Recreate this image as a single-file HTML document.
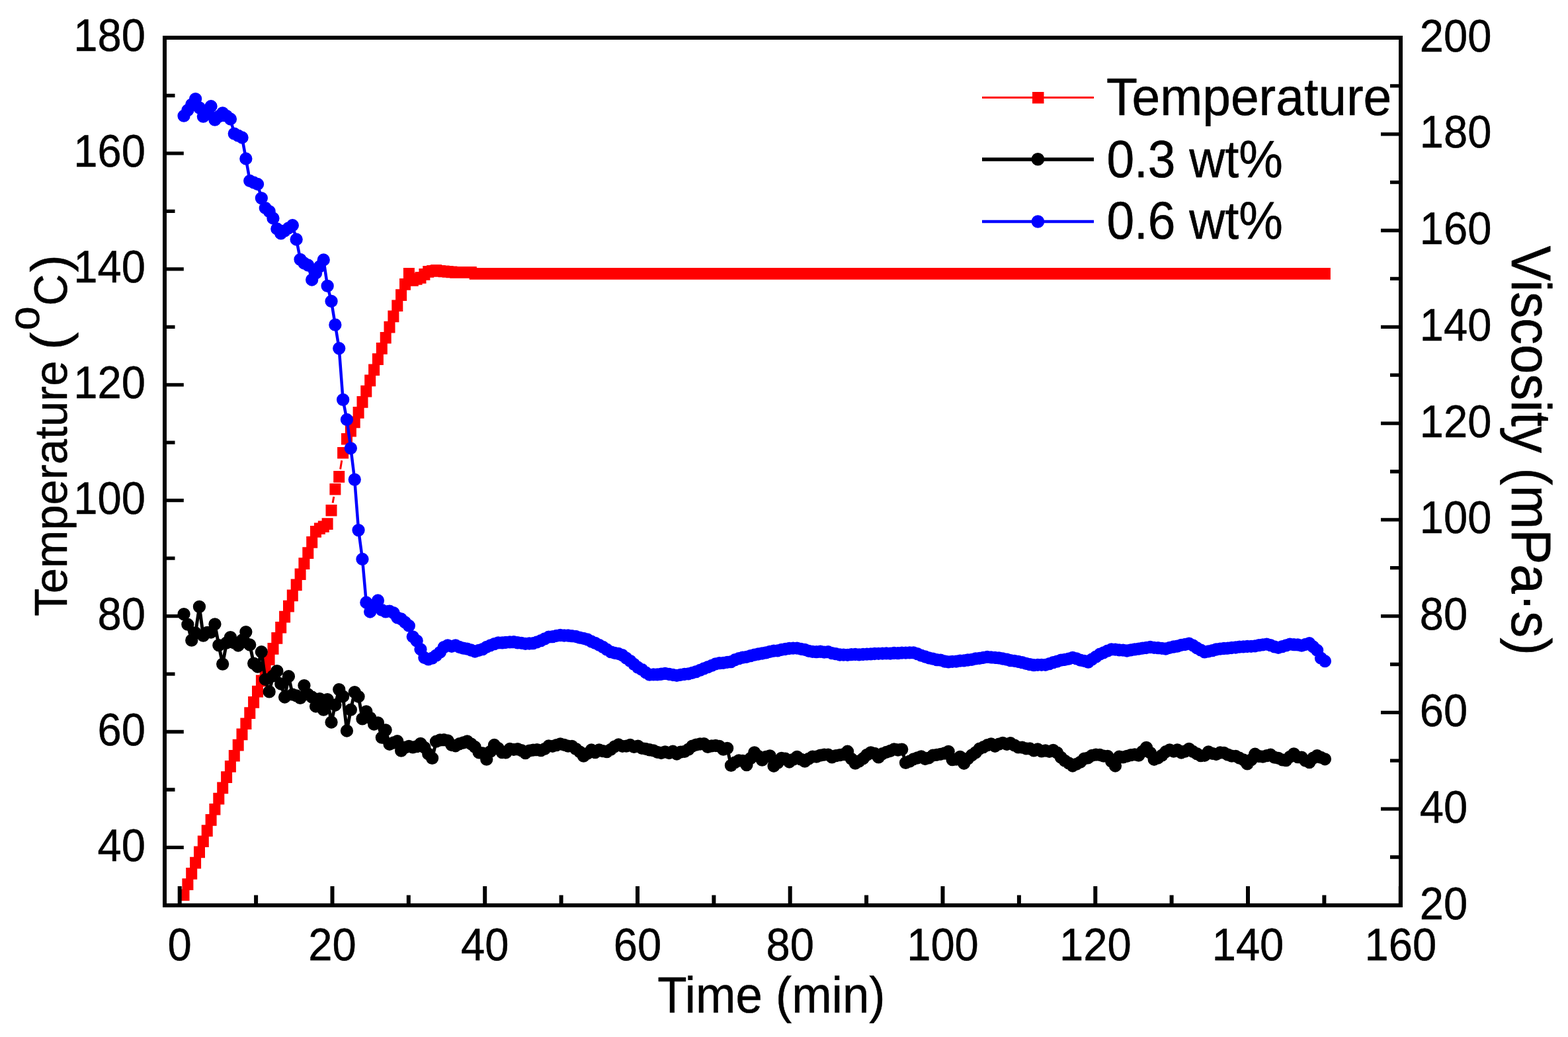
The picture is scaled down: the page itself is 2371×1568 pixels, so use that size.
<!DOCTYPE html><html><head><meta charset="utf-8"><title>Temperature and viscosity vs time</title><style>html,body{margin:0;padding:0;background:#fff;overflow:hidden}svg{display:block}</style></head><body><svg width="2371" height="1568" viewBox="0 0 2371 1568" text-rendering="geometricPrecision">
<rect width="2371" height="1568" fill="#fff"/>
<path d="M503.1 760.4L504.8 751.0M514.6 709.6L516.8 696.2" fill="none" stroke="#f00" stroke-width="3"/>
<path fill="#f00" d="M269.5 1344.4h17v17.7h-17zM275.4 1328.2h17v17.7h-17zM281.2 1312.0h17v17.7h-17zM287.1 1295.8h17v17.7h-17zM293.0 1279.6h17v17.7h-17zM298.8 1263.4h17v17.7h-17zM304.7 1247.2h17v17.7h-17zM310.6 1231.0h17v17.7h-17zM316.4 1214.9h17v17.7h-17zM322.3 1198.7h17v17.7h-17zM328.2 1182.5h17v17.7h-17zM334.1 1166.3h17v17.7h-17zM339.9 1150.1h17v17.7h-17zM345.8 1133.9h17v17.7h-17zM351.7 1117.7h17v17.7h-17zM357.5 1101.5h17v17.7h-17zM363.4 1085.4h17v17.7h-17zM369.3 1069.2h17v17.7h-17zM375.1 1053.0h17v17.7h-17zM381.0 1036.8h17v17.7h-17zM386.9 1020.6h17v17.7h-17zM392.7 1004.4h17v17.7h-17zM398.6 988.2h17v17.7h-17zM404.5 972.0h17v17.7h-17zM410.3 956.0h17v17.7h-17zM416.2 939.9h17v17.7h-17zM422.1 923.8h17v17.7h-17zM428.0 907.7h17v17.7h-17zM433.8 891.6h17v17.7h-17zM439.7 875.5h17v17.7h-17zM445.6 859.4h17v17.7h-17zM451.4 843.3h17v17.7h-17zM457.3 827.2h17v17.7h-17zM463.2 811.1h17v17.7h-17zM469.0 795.0h17v17.7h-17zM474.9 790.4h17v17.7h-17zM480.8 787.4h17v17.7h-17zM486.6 783.2h17v17.7h-17zM492.5 762.9h17v17.7h-17zM498.4 730.9h17v17.7h-17zM504.2 712.1h17v17.7h-17zM510.1 675.9h17v17.7h-17zM516.0 654.9h17v17.7h-17zM521.9 642.8h17v17.7h-17zM527.7 629.5h17v17.7h-17zM533.6 615.1h17v17.7h-17zM539.5 599.0h17v17.7h-17zM545.3 582.8h17v17.7h-17zM551.2 566.6h17v17.7h-17zM557.1 550.4h17v17.7h-17zM562.9 534.3h17v17.7h-17zM568.8 518.1h17v17.7h-17zM574.7 501.9h17v17.7h-17zM580.5 485.8h17v17.7h-17zM586.4 469.6h17v17.7h-17zM592.3 453.4h17v17.7h-17zM598.1 437.2h17v17.7h-17zM604.0 421.0h17v17.7h-17zM609.9 405.0h17v17.7h-17zM615.8 415.1h17v17.7h-17zM621.6 413.1h17v17.7h-17zM627.5 411.1h17v17.7h-17zM633.4 406.1h17v17.7h-17zM639.2 402.1h17v17.7h-17zM645.1 401.0h17v17.7h-17zM651.0 400.1h17v17.7h-17zM656.8 401.1h17v17.7h-17zM662.7 401.6h17v17.7h-17zM668.6 402.1h17v17.7h-17zM674.4 402.6h17v17.7h-17zM680.3 403.1h17v17.7h-17zM686.2 403.1h17v17.7h-17zM692.0 403.1h17v17.7h-17zM697.9 403.1h17v17.7h-17zM703.8 403.1h17v17.7h-17zM709.7 405.0h17v17.7h-17zM715.5 405.0h17v17.7h-17zM721.4 405.0h17v17.7h-17zM727.3 405.0h17v17.7h-17zM733.1 405.0h17v17.7h-17zM739.0 405.0h17v17.7h-17zM744.9 405.0h17v17.7h-17zM750.7 405.0h17v17.7h-17zM756.6 405.0h17v17.7h-17zM762.5 405.0h17v17.7h-17zM768.3 405.0h17v17.7h-17zM774.2 405.0h17v17.7h-17zM780.1 405.0h17v17.7h-17zM785.9 405.0h17v17.7h-17zM791.8 405.0h17v17.7h-17zM797.7 405.0h17v17.7h-17zM803.6 405.0h17v17.7h-17zM809.4 405.0h17v17.7h-17zM815.3 405.0h17v17.7h-17zM821.2 405.0h17v17.7h-17zM827.0 405.0h17v17.7h-17zM832.9 405.0h17v17.7h-17zM838.8 405.0h17v17.7h-17zM844.6 405.0h17v17.7h-17zM850.5 405.0h17v17.7h-17zM856.4 405.0h17v17.7h-17zM862.2 405.0h17v17.7h-17zM868.1 405.0h17v17.7h-17zM874.0 405.0h17v17.7h-17zM879.8 405.0h17v17.7h-17zM885.7 405.0h17v17.7h-17zM891.6 405.0h17v17.7h-17zM897.5 405.0h17v17.7h-17zM903.3 405.0h17v17.7h-17zM909.2 405.0h17v17.7h-17zM915.1 405.0h17v17.7h-17zM920.9 405.0h17v17.7h-17zM926.8 405.0h17v17.7h-17zM932.7 405.0h17v17.7h-17zM938.5 405.0h17v17.7h-17zM944.4 405.0h17v17.7h-17zM950.3 405.0h17v17.7h-17zM956.1 405.0h17v17.7h-17zM962.0 405.0h17v17.7h-17zM967.9 405.0h17v17.7h-17zM973.7 405.0h17v17.7h-17zM979.6 405.0h17v17.7h-17zM985.5 405.0h17v17.7h-17zM991.4 405.0h17v17.7h-17zM997.2 405.0h17v17.7h-17zM1003.1 405.0h17v17.7h-17zM1009.0 405.0h17v17.7h-17zM1014.8 405.0h17v17.7h-17zM1020.7 405.0h17v17.7h-17zM1026.6 405.0h17v17.7h-17zM1032.4 405.0h17v17.7h-17zM1038.3 405.0h17v17.7h-17zM1044.2 405.0h17v17.7h-17zM1050.0 405.0h17v17.7h-17zM1055.9 405.0h17v17.7h-17zM1061.8 405.0h17v17.7h-17zM1067.6 405.0h17v17.7h-17zM1073.5 405.0h17v17.7h-17zM1079.4 405.0h17v17.7h-17zM1085.3 405.0h17v17.7h-17zM1091.1 405.0h17v17.7h-17zM1097.0 405.0h17v17.7h-17zM1102.9 405.0h17v17.7h-17zM1108.7 405.0h17v17.7h-17zM1114.6 405.0h17v17.7h-17zM1120.5 405.0h17v17.7h-17zM1126.3 405.0h17v17.7h-17zM1132.2 405.0h17v17.7h-17zM1138.1 405.0h17v17.7h-17zM1143.9 405.0h17v17.7h-17zM1149.8 405.0h17v17.7h-17zM1155.7 405.0h17v17.7h-17zM1161.5 405.0h17v17.7h-17zM1167.4 405.0h17v17.7h-17zM1173.3 405.0h17v17.7h-17zM1179.1 405.0h17v17.7h-17zM1185.0 405.0h17v17.7h-17zM1190.9 405.0h17v17.7h-17zM1196.8 405.0h17v17.7h-17zM1202.6 405.0h17v17.7h-17zM1208.5 405.0h17v17.7h-17zM1214.4 405.0h17v17.7h-17zM1220.2 405.0h17v17.7h-17zM1226.1 405.0h17v17.7h-17zM1232.0 405.0h17v17.7h-17zM1237.8 405.0h17v17.7h-17zM1243.7 405.0h17v17.7h-17zM1249.6 405.0h17v17.7h-17zM1255.4 405.0h17v17.7h-17zM1261.3 405.0h17v17.7h-17zM1267.2 405.0h17v17.7h-17zM1273.0 405.0h17v17.7h-17zM1278.9 405.0h17v17.7h-17zM1284.8 405.0h17v17.7h-17zM1290.7 405.0h17v17.7h-17zM1296.5 405.0h17v17.7h-17zM1302.4 405.0h17v17.7h-17zM1308.3 405.0h17v17.7h-17zM1314.1 405.0h17v17.7h-17zM1320.0 405.0h17v17.7h-17zM1325.9 405.0h17v17.7h-17zM1331.7 405.0h17v17.7h-17zM1337.6 405.0h17v17.7h-17zM1343.5 405.0h17v17.7h-17zM1349.3 405.0h17v17.7h-17zM1355.2 405.0h17v17.7h-17zM1361.1 405.0h17v17.7h-17zM1366.9 405.0h17v17.7h-17zM1372.8 405.0h17v17.7h-17zM1378.7 405.0h17v17.7h-17zM1384.6 405.0h17v17.7h-17zM1390.4 405.0h17v17.7h-17zM1396.3 405.0h17v17.7h-17zM1402.2 405.0h17v17.7h-17zM1408.0 405.0h17v17.7h-17zM1413.9 405.0h17v17.7h-17zM1419.8 405.0h17v17.7h-17zM1425.6 405.0h17v17.7h-17zM1431.5 405.0h17v17.7h-17zM1437.4 405.0h17v17.7h-17zM1443.2 405.0h17v17.7h-17zM1449.1 405.0h17v17.7h-17zM1455.0 405.0h17v17.7h-17zM1460.8 405.0h17v17.7h-17zM1466.7 405.0h17v17.7h-17zM1472.6 405.0h17v17.7h-17zM1478.5 405.0h17v17.7h-17zM1484.3 405.0h17v17.7h-17zM1490.2 405.0h17v17.7h-17zM1496.1 405.0h17v17.7h-17zM1501.9 405.0h17v17.7h-17zM1507.8 405.0h17v17.7h-17zM1513.7 405.0h17v17.7h-17zM1519.5 405.0h17v17.7h-17zM1525.4 405.0h17v17.7h-17zM1531.3 405.0h17v17.7h-17zM1537.1 405.0h17v17.7h-17zM1543.0 405.0h17v17.7h-17zM1548.9 405.0h17v17.7h-17zM1554.7 405.0h17v17.7h-17zM1560.6 405.0h17v17.7h-17zM1566.5 405.0h17v17.7h-17zM1572.4 405.0h17v17.7h-17zM1578.2 405.0h17v17.7h-17zM1584.1 405.0h17v17.7h-17zM1590.0 405.0h17v17.7h-17zM1595.8 405.0h17v17.7h-17zM1601.7 405.0h17v17.7h-17zM1607.6 405.0h17v17.7h-17zM1613.4 405.0h17v17.7h-17zM1619.3 405.0h17v17.7h-17zM1625.2 405.0h17v17.7h-17zM1631.0 405.0h17v17.7h-17zM1636.9 405.0h17v17.7h-17zM1642.8 405.0h17v17.7h-17zM1648.6 405.0h17v17.7h-17zM1654.5 405.0h17v17.7h-17zM1660.4 405.0h17v17.7h-17zM1666.3 405.0h17v17.7h-17zM1672.1 405.0h17v17.7h-17zM1678.0 405.0h17v17.7h-17zM1683.9 405.0h17v17.7h-17zM1689.7 405.0h17v17.7h-17zM1695.6 405.0h17v17.7h-17zM1701.5 405.0h17v17.7h-17zM1707.3 405.0h17v17.7h-17zM1713.2 405.0h17v17.7h-17zM1719.1 405.0h17v17.7h-17zM1724.9 405.0h17v17.7h-17zM1730.8 405.0h17v17.7h-17zM1736.7 405.0h17v17.7h-17zM1742.5 405.0h17v17.7h-17zM1748.4 405.0h17v17.7h-17zM1754.3 405.0h17v17.7h-17zM1760.2 405.0h17v17.7h-17zM1766.0 405.0h17v17.7h-17zM1771.9 405.0h17v17.7h-17zM1777.8 405.0h17v17.7h-17zM1783.6 405.0h17v17.7h-17zM1789.5 405.0h17v17.7h-17zM1795.4 405.0h17v17.7h-17zM1801.2 405.0h17v17.7h-17zM1807.1 405.0h17v17.7h-17zM1813.0 405.0h17v17.7h-17zM1818.8 405.0h17v17.7h-17zM1824.7 405.0h17v17.7h-17zM1830.6 405.0h17v17.7h-17zM1836.4 405.0h17v17.7h-17zM1842.3 405.0h17v17.7h-17zM1848.2 405.0h17v17.7h-17zM1854.1 405.0h17v17.7h-17zM1859.9 405.0h17v17.7h-17zM1865.8 405.0h17v17.7h-17zM1871.7 405.0h17v17.7h-17zM1877.5 405.0h17v17.7h-17zM1883.4 405.0h17v17.7h-17zM1889.3 405.0h17v17.7h-17zM1895.1 405.0h17v17.7h-17zM1901.0 405.0h17v17.7h-17zM1906.9 405.0h17v17.7h-17zM1912.7 405.0h17v17.7h-17zM1918.6 405.0h17v17.7h-17zM1924.5 405.0h17v17.7h-17zM1930.3 405.0h17v17.7h-17zM1936.2 405.0h17v17.7h-17zM1942.1 405.0h17v17.7h-17zM1948.0 405.0h17v17.7h-17zM1953.8 405.0h17v17.7h-17zM1959.7 405.0h17v17.7h-17zM1965.6 405.0h17v17.7h-17zM1971.4 405.0h17v17.7h-17zM1977.3 405.0h17v17.7h-17zM1983.2 405.0h17v17.7h-17zM1989.0 405.0h17v17.7h-17zM1994.9 405.0h17v17.7h-17z"/>
<path d="M278.0 928.6 L283.9 944.2 L289.7 968.2 L295.6 957.0 L301.5 917.4 L307.3 961.2 L313.2 956.5 L319.1 956.0 L324.9 943.8 L330.8 975.7 L336.7 1004.1 L342.6 972.0 L348.4 963.6 L354.3 972.0 L360.2 976.0 L366.0 968.0 L371.9 955.6 L377.8 975.0 L383.6 1003.1 L389.5 1008.0 L395.4 985.7 L401.2 1027.3 L407.1 1045.9 L413.0 1022.0 L418.8 1014.7 L424.7 1034.0 L430.6 1054.0 L436.5 1022.7 L442.3 1050.2 L448.2 1052.0 L454.1 1055.3 L459.9 1036.6 L465.8 1050.0 L471.7 1054.0 L477.5 1068.0 L483.4 1056.6 L489.3 1073.2 L495.1 1057.7 L501.0 1092.0 L506.9 1066.0 L512.7 1042.6 L518.6 1053.0 L524.5 1105.0 L530.4 1073.2 L536.2 1046.6 L542.1 1053.3 L548.0 1086.9 L553.8 1075.8 L559.7 1085.4 L565.6 1095.0 L571.4 1092.8 L577.3 1115.2 L583.2 1103.8 L589.0 1125.3 L594.9 1123.0 L600.8 1120.7 L606.6 1135.2 L612.5 1130.2 L618.4 1128.5 L624.3 1129.9 L630.1 1128.6 L636.0 1124.3 L641.9 1130.3 L647.7 1140.0 L653.6 1146.4 L659.5 1121.2 L665.3 1119.0 L671.2 1118.7 L677.1 1119.8 L682.9 1126.5 L688.8 1127.8 L694.7 1124.7 L700.5 1123.0 L706.4 1120.9 L712.3 1124.8 L718.2 1129.5 L724.0 1137.8 L729.9 1138.8 L735.8 1148.2 L741.6 1136.3 L747.5 1126.5 L753.4 1131.5 L759.2 1137.6 L765.1 1137.8 L771.0 1132.5 L776.8 1133.4 L782.7 1132.7 L788.6 1134.6 L794.4 1138.7 L800.3 1135.2 L806.2 1134.1 L812.1 1133.6 L817.9 1134.7 L823.8 1132.3 L829.7 1128.0 L835.5 1128.3 L841.4 1126.7 L847.3 1124.9 L853.1 1126.3 L859.0 1128.2 L864.9 1128.4 L870.7 1132.4 L876.6 1136.8 L882.5 1143.2 L888.3 1139.3 L894.2 1134.0 L900.1 1137.6 L906.0 1133.8 L911.8 1135.6 L917.7 1136.7 L923.6 1133.3 L929.4 1128.8 L935.3 1126.0 L941.2 1128.3 L947.0 1128.1 L952.9 1126.5 L958.8 1129.3 L964.6 1128.1 L970.5 1131.3 L976.4 1132.3 L982.2 1133.8 L988.1 1134.8 L994.0 1137.3 L999.9 1138.5 L1005.7 1136.9 L1011.6 1138.5 L1017.5 1136.2 L1023.3 1140.0 L1029.2 1137.2 L1035.1 1136.4 L1040.9 1133.1 L1046.8 1128.1 L1052.7 1126.1 L1058.5 1125.0 L1064.4 1124.6 L1070.3 1129.4 L1076.1 1127.9 L1082.0 1127.5 L1087.9 1128.5 L1093.8 1133.2 L1099.6 1131.4 L1105.5 1157.4 L1111.4 1152.8 L1117.2 1149.8 L1123.1 1150.4 L1129.0 1156.7 L1134.8 1146.7 L1140.7 1137.9 L1146.6 1143.3 L1152.4 1149.1 L1158.3 1144.3 L1164.2 1142.9 L1170.0 1158.3 L1175.9 1153.4 L1181.8 1146.4 L1187.6 1147.2 L1193.5 1152.0 L1199.4 1148.4 L1205.3 1144.4 L1211.1 1148.1 L1217.0 1151.1 L1222.9 1147.3 L1228.7 1144.1 L1234.6 1144.2 L1240.5 1142.1 L1246.3 1141.1 L1252.2 1141.1 L1258.1 1144.9 L1263.9 1142.6 L1269.8 1141.7 L1275.7 1140.6 L1281.5 1136.2 L1287.4 1147.5 L1293.3 1154.1 L1299.2 1151.0 L1305.0 1147.0 L1310.9 1141.4 L1316.8 1137.8 L1322.6 1139.4 L1328.5 1144.9 L1334.4 1139.7 L1340.2 1137.3 L1346.1 1135.5 L1352.0 1132.8 L1357.8 1134.0 L1363.7 1133.1 L1369.6 1153.4 L1375.4 1151.1 L1381.3 1147.8 L1387.2 1146.0 L1393.1 1143.9 L1398.9 1147.5 L1404.8 1145.8 L1410.7 1142.2 L1416.5 1141.3 L1422.4 1140.3 L1428.3 1139.0 L1434.1 1136.4 L1440.0 1148.6 L1445.9 1148.1 L1451.7 1144.3 L1457.6 1154.3 L1463.5 1147.2 L1469.3 1142.0 L1475.2 1137.9 L1481.1 1132.2 L1487.0 1129.7 L1492.8 1126.7 L1498.7 1124.9 L1504.6 1128.3 L1510.4 1125.2 L1516.3 1123.4 L1522.2 1125.3 L1528.0 1123.7 L1533.9 1126.9 L1539.8 1129.9 L1545.6 1130.2 L1551.5 1131.8 L1557.4 1132.0 L1563.2 1134.9 L1569.1 1132.8 L1575.0 1135.9 L1580.9 1135.0 L1586.7 1136.3 L1592.6 1134.4 L1598.5 1138.1 L1604.3 1145.2 L1610.2 1150.3 L1616.1 1153.9 L1621.9 1158.0 L1627.8 1155.3 L1633.7 1152.3 L1639.5 1147.1 L1645.4 1145.8 L1651.3 1142.3 L1657.1 1141.1 L1663.0 1141.5 L1668.9 1143.1 L1674.8 1143.3 L1680.6 1151.1 L1686.5 1158.0 L1692.4 1144.2 L1698.2 1144.9 L1704.1 1143.4 L1710.0 1141.6 L1715.8 1140.8 L1721.7 1142.2 L1727.6 1136.3 L1733.4 1130.3 L1739.3 1138.3 L1745.2 1148.3 L1751.0 1146.0 L1756.9 1142.1 L1762.8 1136.7 L1768.7 1133.9 L1774.5 1136.0 L1780.4 1133.9 L1786.3 1138.0 L1792.1 1136.0 L1798.0 1132.3 L1803.9 1136.5 L1809.7 1139.6 L1815.6 1142.6 L1821.5 1142.3 L1827.3 1136.9 L1833.2 1139.4 L1839.1 1140.5 L1844.9 1138.0 L1850.8 1138.3 L1856.7 1141.1 L1862.6 1143.1 L1868.4 1143.4 L1874.3 1146.2 L1880.2 1148.8 L1886.0 1154.9 L1891.9 1148.9 L1897.8 1140.2 L1903.6 1143.5 L1909.5 1144.2 L1915.4 1142.7 L1921.2 1141.2 L1927.1 1145.2 L1933.0 1146.3 L1938.8 1148.8 L1944.7 1149.6 L1950.6 1144.3 L1956.5 1139.9 L1962.3 1144.7 L1968.2 1145.1 L1974.1 1150.1 L1979.9 1152.7 L1985.8 1146.1 L1991.7 1142.6 L1997.5 1145.4 L2003.4 1147.8" fill="none" stroke="#000" stroke-width="5"/>
<path fill="#000" d="M268.4 928.6a9.65 9.65 0 1 0 19.3 0a9.65 9.65 0 1 0 -19.3 0zM274.2 944.2a9.65 9.65 0 1 0 19.3 0a9.65 9.65 0 1 0 -19.3 0zM280.1 968.2a9.65 9.65 0 1 0 19.3 0a9.65 9.65 0 1 0 -19.3 0zM286.0 957.0a9.65 9.65 0 1 0 19.3 0a9.65 9.65 0 1 0 -19.3 0zM291.8 917.4a9.65 9.65 0 1 0 19.3 0a9.65 9.65 0 1 0 -19.3 0zM297.7 961.2a9.65 9.65 0 1 0 19.3 0a9.65 9.65 0 1 0 -19.3 0zM303.6 956.5a9.65 9.65 0 1 0 19.3 0a9.65 9.65 0 1 0 -19.3 0zM309.4 956.0a9.65 9.65 0 1 0 19.3 0a9.65 9.65 0 1 0 -19.3 0zM315.3 943.8a9.65 9.65 0 1 0 19.3 0a9.65 9.65 0 1 0 -19.3 0zM321.2 975.7a9.65 9.65 0 1 0 19.3 0a9.65 9.65 0 1 0 -19.3 0zM327.0 1004.1a9.65 9.65 0 1 0 19.3 0a9.65 9.65 0 1 0 -19.3 0zM332.9 972.0a9.65 9.65 0 1 0 19.3 0a9.65 9.65 0 1 0 -19.3 0zM338.8 963.6a9.65 9.65 0 1 0 19.3 0a9.65 9.65 0 1 0 -19.3 0zM344.6 972.0a9.65 9.65 0 1 0 19.3 0a9.65 9.65 0 1 0 -19.3 0zM350.5 976.0a9.65 9.65 0 1 0 19.3 0a9.65 9.65 0 1 0 -19.3 0zM356.4 968.0a9.65 9.65 0 1 0 19.3 0a9.65 9.65 0 1 0 -19.3 0zM362.2 955.6a9.65 9.65 0 1 0 19.3 0a9.65 9.65 0 1 0 -19.3 0zM368.1 975.0a9.65 9.65 0 1 0 19.3 0a9.65 9.65 0 1 0 -19.3 0zM374.0 1003.1a9.65 9.65 0 1 0 19.3 0a9.65 9.65 0 1 0 -19.3 0zM379.9 1008.0a9.65 9.65 0 1 0 19.3 0a9.65 9.65 0 1 0 -19.3 0zM385.7 985.7a9.65 9.65 0 1 0 19.3 0a9.65 9.65 0 1 0 -19.3 0zM391.6 1027.3a9.65 9.65 0 1 0 19.3 0a9.65 9.65 0 1 0 -19.3 0zM397.5 1045.9a9.65 9.65 0 1 0 19.3 0a9.65 9.65 0 1 0 -19.3 0zM403.3 1022.0a9.65 9.65 0 1 0 19.3 0a9.65 9.65 0 1 0 -19.3 0zM409.2 1014.7a9.65 9.65 0 1 0 19.3 0a9.65 9.65 0 1 0 -19.3 0zM415.1 1034.0a9.65 9.65 0 1 0 19.3 0a9.65 9.65 0 1 0 -19.3 0zM420.9 1054.0a9.65 9.65 0 1 0 19.3 0a9.65 9.65 0 1 0 -19.3 0zM426.8 1022.7a9.65 9.65 0 1 0 19.3 0a9.65 9.65 0 1 0 -19.3 0zM432.7 1050.2a9.65 9.65 0 1 0 19.3 0a9.65 9.65 0 1 0 -19.3 0zM438.5 1052.0a9.65 9.65 0 1 0 19.3 0a9.65 9.65 0 1 0 -19.3 0zM444.4 1055.3a9.65 9.65 0 1 0 19.3 0a9.65 9.65 0 1 0 -19.3 0zM450.3 1036.6a9.65 9.65 0 1 0 19.3 0a9.65 9.65 0 1 0 -19.3 0zM456.1 1050.0a9.65 9.65 0 1 0 19.3 0a9.65 9.65 0 1 0 -19.3 0zM462.0 1054.0a9.65 9.65 0 1 0 19.3 0a9.65 9.65 0 1 0 -19.3 0zM467.9 1068.0a9.65 9.65 0 1 0 19.3 0a9.65 9.65 0 1 0 -19.3 0zM473.8 1056.6a9.65 9.65 0 1 0 19.3 0a9.65 9.65 0 1 0 -19.3 0zM479.6 1073.2a9.65 9.65 0 1 0 19.3 0a9.65 9.65 0 1 0 -19.3 0zM485.5 1057.7a9.65 9.65 0 1 0 19.3 0a9.65 9.65 0 1 0 -19.3 0zM491.4 1092.0a9.65 9.65 0 1 0 19.3 0a9.65 9.65 0 1 0 -19.3 0zM497.2 1066.0a9.65 9.65 0 1 0 19.3 0a9.65 9.65 0 1 0 -19.3 0zM503.1 1042.6a9.65 9.65 0 1 0 19.3 0a9.65 9.65 0 1 0 -19.3 0zM509.0 1053.0a9.65 9.65 0 1 0 19.3 0a9.65 9.65 0 1 0 -19.3 0zM514.8 1105.0a9.65 9.65 0 1 0 19.3 0a9.65 9.65 0 1 0 -19.3 0zM520.7 1073.2a9.65 9.65 0 1 0 19.3 0a9.65 9.65 0 1 0 -19.3 0zM526.6 1046.6a9.65 9.65 0 1 0 19.3 0a9.65 9.65 0 1 0 -19.3 0zM532.4 1053.3a9.65 9.65 0 1 0 19.3 0a9.65 9.65 0 1 0 -19.3 0zM538.3 1086.9a9.65 9.65 0 1 0 19.3 0a9.65 9.65 0 1 0 -19.3 0zM544.2 1075.8a9.65 9.65 0 1 0 19.3 0a9.65 9.65 0 1 0 -19.3 0zM550.0 1085.4a9.65 9.65 0 1 0 19.3 0a9.65 9.65 0 1 0 -19.3 0zM555.9 1095.0a9.65 9.65 0 1 0 19.3 0a9.65 9.65 0 1 0 -19.3 0zM561.8 1092.8a9.65 9.65 0 1 0 19.3 0a9.65 9.65 0 1 0 -19.3 0zM567.7 1115.2a9.65 9.65 0 1 0 19.3 0a9.65 9.65 0 1 0 -19.3 0zM573.5 1103.8a9.65 9.65 0 1 0 19.3 0a9.65 9.65 0 1 0 -19.3 0zM579.4 1125.3a9.65 9.65 0 1 0 19.3 0a9.65 9.65 0 1 0 -19.3 0zM585.3 1123.0a9.65 9.65 0 1 0 19.3 0a9.65 9.65 0 1 0 -19.3 0zM591.1 1120.7a9.65 9.65 0 1 0 19.3 0a9.65 9.65 0 1 0 -19.3 0zM597.0 1135.2a9.65 9.65 0 1 0 19.3 0a9.65 9.65 0 1 0 -19.3 0zM602.9 1130.2a9.65 9.65 0 1 0 19.3 0a9.65 9.65 0 1 0 -19.3 0zM608.7 1128.5a9.65 9.65 0 1 0 19.3 0a9.65 9.65 0 1 0 -19.3 0zM614.6 1129.9a9.65 9.65 0 1 0 19.3 0a9.65 9.65 0 1 0 -19.3 0zM620.5 1128.6a9.65 9.65 0 1 0 19.3 0a9.65 9.65 0 1 0 -19.3 0zM626.3 1124.3a9.65 9.65 0 1 0 19.3 0a9.65 9.65 0 1 0 -19.3 0zM632.2 1130.3a9.65 9.65 0 1 0 19.3 0a9.65 9.65 0 1 0 -19.3 0zM638.1 1140.0a9.65 9.65 0 1 0 19.3 0a9.65 9.65 0 1 0 -19.3 0zM643.9 1146.4a9.65 9.65 0 1 0 19.3 0a9.65 9.65 0 1 0 -19.3 0zM649.8 1121.2a9.65 9.65 0 1 0 19.3 0a9.65 9.65 0 1 0 -19.3 0zM655.7 1119.0a9.65 9.65 0 1 0 19.3 0a9.65 9.65 0 1 0 -19.3 0zM661.6 1118.7a9.65 9.65 0 1 0 19.3 0a9.65 9.65 0 1 0 -19.3 0zM667.4 1119.8a9.65 9.65 0 1 0 19.3 0a9.65 9.65 0 1 0 -19.3 0zM673.3 1126.5a9.65 9.65 0 1 0 19.3 0a9.65 9.65 0 1 0 -19.3 0zM679.2 1127.8a9.65 9.65 0 1 0 19.3 0a9.65 9.65 0 1 0 -19.3 0zM685.0 1124.7a9.65 9.65 0 1 0 19.3 0a9.65 9.65 0 1 0 -19.3 0zM690.9 1123.0a9.65 9.65 0 1 0 19.3 0a9.65 9.65 0 1 0 -19.3 0zM696.8 1120.9a9.65 9.65 0 1 0 19.3 0a9.65 9.65 0 1 0 -19.3 0zM702.6 1124.8a9.65 9.65 0 1 0 19.3 0a9.65 9.65 0 1 0 -19.3 0zM708.5 1129.5a9.65 9.65 0 1 0 19.3 0a9.65 9.65 0 1 0 -19.3 0zM714.4 1137.8a9.65 9.65 0 1 0 19.3 0a9.65 9.65 0 1 0 -19.3 0zM720.2 1138.8a9.65 9.65 0 1 0 19.3 0a9.65 9.65 0 1 0 -19.3 0zM726.1 1148.2a9.65 9.65 0 1 0 19.3 0a9.65 9.65 0 1 0 -19.3 0zM732.0 1136.3a9.65 9.65 0 1 0 19.3 0a9.65 9.65 0 1 0 -19.3 0zM737.8 1126.5a9.65 9.65 0 1 0 19.3 0a9.65 9.65 0 1 0 -19.3 0zM743.7 1131.5a9.65 9.65 0 1 0 19.3 0a9.65 9.65 0 1 0 -19.3 0zM749.6 1137.6a9.65 9.65 0 1 0 19.3 0a9.65 9.65 0 1 0 -19.3 0zM755.5 1137.8a9.65 9.65 0 1 0 19.3 0a9.65 9.65 0 1 0 -19.3 0zM761.3 1132.5a9.65 9.65 0 1 0 19.3 0a9.65 9.65 0 1 0 -19.3 0zM767.2 1133.4a9.65 9.65 0 1 0 19.3 0a9.65 9.65 0 1 0 -19.3 0zM773.1 1132.7a9.65 9.65 0 1 0 19.3 0a9.65 9.65 0 1 0 -19.3 0zM778.9 1134.6a9.65 9.65 0 1 0 19.3 0a9.65 9.65 0 1 0 -19.3 0zM784.8 1138.7a9.65 9.65 0 1 0 19.3 0a9.65 9.65 0 1 0 -19.3 0zM790.7 1135.2a9.65 9.65 0 1 0 19.3 0a9.65 9.65 0 1 0 -19.3 0zM796.5 1134.1a9.65 9.65 0 1 0 19.3 0a9.65 9.65 0 1 0 -19.3 0zM802.4 1133.6a9.65 9.65 0 1 0 19.3 0a9.65 9.65 0 1 0 -19.3 0zM808.3 1134.7a9.65 9.65 0 1 0 19.3 0a9.65 9.65 0 1 0 -19.3 0zM814.1 1132.3a9.65 9.65 0 1 0 19.3 0a9.65 9.65 0 1 0 -19.3 0zM820.0 1128.0a9.65 9.65 0 1 0 19.3 0a9.65 9.65 0 1 0 -19.3 0zM825.9 1128.3a9.65 9.65 0 1 0 19.3 0a9.65 9.65 0 1 0 -19.3 0zM831.7 1126.7a9.65 9.65 0 1 0 19.3 0a9.65 9.65 0 1 0 -19.3 0zM837.6 1124.9a9.65 9.65 0 1 0 19.3 0a9.65 9.65 0 1 0 -19.3 0zM843.5 1126.3a9.65 9.65 0 1 0 19.3 0a9.65 9.65 0 1 0 -19.3 0zM849.4 1128.2a9.65 9.65 0 1 0 19.3 0a9.65 9.65 0 1 0 -19.3 0zM855.2 1128.4a9.65 9.65 0 1 0 19.3 0a9.65 9.65 0 1 0 -19.3 0zM861.1 1132.4a9.65 9.65 0 1 0 19.3 0a9.65 9.65 0 1 0 -19.3 0zM867.0 1136.8a9.65 9.65 0 1 0 19.3 0a9.65 9.65 0 1 0 -19.3 0zM872.8 1143.2a9.65 9.65 0 1 0 19.3 0a9.65 9.65 0 1 0 -19.3 0zM878.7 1139.3a9.65 9.65 0 1 0 19.3 0a9.65 9.65 0 1 0 -19.3 0zM884.6 1134.0a9.65 9.65 0 1 0 19.3 0a9.65 9.65 0 1 0 -19.3 0zM890.4 1137.6a9.65 9.65 0 1 0 19.3 0a9.65 9.65 0 1 0 -19.3 0zM896.3 1133.8a9.65 9.65 0 1 0 19.3 0a9.65 9.65 0 1 0 -19.3 0zM902.2 1135.6a9.65 9.65 0 1 0 19.3 0a9.65 9.65 0 1 0 -19.3 0zM908.0 1136.7a9.65 9.65 0 1 0 19.3 0a9.65 9.65 0 1 0 -19.3 0zM913.9 1133.3a9.65 9.65 0 1 0 19.3 0a9.65 9.65 0 1 0 -19.3 0zM919.8 1128.8a9.65 9.65 0 1 0 19.3 0a9.65 9.65 0 1 0 -19.3 0zM925.6 1126.0a9.65 9.65 0 1 0 19.3 0a9.65 9.65 0 1 0 -19.3 0zM931.5 1128.3a9.65 9.65 0 1 0 19.3 0a9.65 9.65 0 1 0 -19.3 0zM937.4 1128.1a9.65 9.65 0 1 0 19.3 0a9.65 9.65 0 1 0 -19.3 0zM943.3 1126.5a9.65 9.65 0 1 0 19.3 0a9.65 9.65 0 1 0 -19.3 0zM949.1 1129.3a9.65 9.65 0 1 0 19.3 0a9.65 9.65 0 1 0 -19.3 0zM955.0 1128.1a9.65 9.65 0 1 0 19.3 0a9.65 9.65 0 1 0 -19.3 0zM960.9 1131.3a9.65 9.65 0 1 0 19.3 0a9.65 9.65 0 1 0 -19.3 0zM966.7 1132.3a9.65 9.65 0 1 0 19.3 0a9.65 9.65 0 1 0 -19.3 0zM972.6 1133.8a9.65 9.65 0 1 0 19.3 0a9.65 9.65 0 1 0 -19.3 0zM978.5 1134.8a9.65 9.65 0 1 0 19.3 0a9.65 9.65 0 1 0 -19.3 0zM984.3 1137.3a9.65 9.65 0 1 0 19.3 0a9.65 9.65 0 1 0 -19.3 0zM990.2 1138.5a9.65 9.65 0 1 0 19.3 0a9.65 9.65 0 1 0 -19.3 0zM996.1 1136.9a9.65 9.65 0 1 0 19.3 0a9.65 9.65 0 1 0 -19.3 0zM1001.9 1138.5a9.65 9.65 0 1 0 19.3 0a9.65 9.65 0 1 0 -19.3 0zM1007.8 1136.2a9.65 9.65 0 1 0 19.3 0a9.65 9.65 0 1 0 -19.3 0zM1013.7 1140.0a9.65 9.65 0 1 0 19.3 0a9.65 9.65 0 1 0 -19.3 0zM1019.5 1137.2a9.65 9.65 0 1 0 19.3 0a9.65 9.65 0 1 0 -19.3 0zM1025.4 1136.4a9.65 9.65 0 1 0 19.3 0a9.65 9.65 0 1 0 -19.3 0zM1031.3 1133.1a9.65 9.65 0 1 0 19.3 0a9.65 9.65 0 1 0 -19.3 0zM1037.2 1128.1a9.65 9.65 0 1 0 19.3 0a9.65 9.65 0 1 0 -19.3 0zM1043.0 1126.1a9.65 9.65 0 1 0 19.3 0a9.65 9.65 0 1 0 -19.3 0zM1048.9 1125.0a9.65 9.65 0 1 0 19.3 0a9.65 9.65 0 1 0 -19.3 0zM1054.8 1124.6a9.65 9.65 0 1 0 19.3 0a9.65 9.65 0 1 0 -19.3 0zM1060.6 1129.4a9.65 9.65 0 1 0 19.3 0a9.65 9.65 0 1 0 -19.3 0zM1066.5 1127.9a9.65 9.65 0 1 0 19.3 0a9.65 9.65 0 1 0 -19.3 0zM1072.4 1127.5a9.65 9.65 0 1 0 19.3 0a9.65 9.65 0 1 0 -19.3 0zM1078.2 1128.5a9.65 9.65 0 1 0 19.3 0a9.65 9.65 0 1 0 -19.3 0zM1084.1 1133.2a9.65 9.65 0 1 0 19.3 0a9.65 9.65 0 1 0 -19.3 0zM1090.0 1131.4a9.65 9.65 0 1 0 19.3 0a9.65 9.65 0 1 0 -19.3 0zM1095.8 1157.4a9.65 9.65 0 1 0 19.3 0a9.65 9.65 0 1 0 -19.3 0zM1101.7 1152.8a9.65 9.65 0 1 0 19.3 0a9.65 9.65 0 1 0 -19.3 0zM1107.6 1149.8a9.65 9.65 0 1 0 19.3 0a9.65 9.65 0 1 0 -19.3 0zM1113.4 1150.4a9.65 9.65 0 1 0 19.3 0a9.65 9.65 0 1 0 -19.3 0zM1119.3 1156.7a9.65 9.65 0 1 0 19.3 0a9.65 9.65 0 1 0 -19.3 0zM1125.2 1146.7a9.65 9.65 0 1 0 19.3 0a9.65 9.65 0 1 0 -19.3 0zM1131.1 1137.9a9.65 9.65 0 1 0 19.3 0a9.65 9.65 0 1 0 -19.3 0zM1136.9 1143.3a9.65 9.65 0 1 0 19.3 0a9.65 9.65 0 1 0 -19.3 0zM1142.8 1149.1a9.65 9.65 0 1 0 19.3 0a9.65 9.65 0 1 0 -19.3 0zM1148.7 1144.3a9.65 9.65 0 1 0 19.3 0a9.65 9.65 0 1 0 -19.3 0zM1154.5 1142.9a9.65 9.65 0 1 0 19.3 0a9.65 9.65 0 1 0 -19.3 0zM1160.4 1158.3a9.65 9.65 0 1 0 19.3 0a9.65 9.65 0 1 0 -19.3 0zM1166.3 1153.4a9.65 9.65 0 1 0 19.3 0a9.65 9.65 0 1 0 -19.3 0zM1172.1 1146.4a9.65 9.65 0 1 0 19.3 0a9.65 9.65 0 1 0 -19.3 0zM1178.0 1147.2a9.65 9.65 0 1 0 19.3 0a9.65 9.65 0 1 0 -19.3 0zM1183.9 1152.0a9.65 9.65 0 1 0 19.3 0a9.65 9.65 0 1 0 -19.3 0zM1189.7 1148.4a9.65 9.65 0 1 0 19.3 0a9.65 9.65 0 1 0 -19.3 0zM1195.6 1144.4a9.65 9.65 0 1 0 19.3 0a9.65 9.65 0 1 0 -19.3 0zM1201.5 1148.1a9.65 9.65 0 1 0 19.3 0a9.65 9.65 0 1 0 -19.3 0zM1207.3 1151.1a9.65 9.65 0 1 0 19.3 0a9.65 9.65 0 1 0 -19.3 0zM1213.2 1147.3a9.65 9.65 0 1 0 19.3 0a9.65 9.65 0 1 0 -19.3 0zM1219.1 1144.1a9.65 9.65 0 1 0 19.3 0a9.65 9.65 0 1 0 -19.3 0zM1224.9 1144.2a9.65 9.65 0 1 0 19.3 0a9.65 9.65 0 1 0 -19.3 0zM1230.8 1142.1a9.65 9.65 0 1 0 19.3 0a9.65 9.65 0 1 0 -19.3 0zM1236.7 1141.1a9.65 9.65 0 1 0 19.3 0a9.65 9.65 0 1 0 -19.3 0zM1242.6 1141.1a9.65 9.65 0 1 0 19.3 0a9.65 9.65 0 1 0 -19.3 0zM1248.4 1144.9a9.65 9.65 0 1 0 19.3 0a9.65 9.65 0 1 0 -19.3 0zM1254.3 1142.6a9.65 9.65 0 1 0 19.3 0a9.65 9.65 0 1 0 -19.3 0zM1260.2 1141.7a9.65 9.65 0 1 0 19.3 0a9.65 9.65 0 1 0 -19.3 0zM1266.0 1140.6a9.65 9.65 0 1 0 19.3 0a9.65 9.65 0 1 0 -19.3 0zM1271.9 1136.2a9.65 9.65 0 1 0 19.3 0a9.65 9.65 0 1 0 -19.3 0zM1277.8 1147.5a9.65 9.65 0 1 0 19.3 0a9.65 9.65 0 1 0 -19.3 0zM1283.6 1154.1a9.65 9.65 0 1 0 19.3 0a9.65 9.65 0 1 0 -19.3 0zM1289.5 1151.0a9.65 9.65 0 1 0 19.3 0a9.65 9.65 0 1 0 -19.3 0zM1295.4 1147.0a9.65 9.65 0 1 0 19.3 0a9.65 9.65 0 1 0 -19.3 0zM1301.2 1141.4a9.65 9.65 0 1 0 19.3 0a9.65 9.65 0 1 0 -19.3 0zM1307.1 1137.8a9.65 9.65 0 1 0 19.3 0a9.65 9.65 0 1 0 -19.3 0zM1313.0 1139.4a9.65 9.65 0 1 0 19.3 0a9.65 9.65 0 1 0 -19.3 0zM1318.8 1144.9a9.65 9.65 0 1 0 19.3 0a9.65 9.65 0 1 0 -19.3 0zM1324.7 1139.7a9.65 9.65 0 1 0 19.3 0a9.65 9.65 0 1 0 -19.3 0zM1330.6 1137.3a9.65 9.65 0 1 0 19.3 0a9.65 9.65 0 1 0 -19.3 0zM1336.5 1135.5a9.65 9.65 0 1 0 19.3 0a9.65 9.65 0 1 0 -19.3 0zM1342.3 1132.8a9.65 9.65 0 1 0 19.3 0a9.65 9.65 0 1 0 -19.3 0zM1348.2 1134.0a9.65 9.65 0 1 0 19.3 0a9.65 9.65 0 1 0 -19.3 0zM1354.1 1133.1a9.65 9.65 0 1 0 19.3 0a9.65 9.65 0 1 0 -19.3 0zM1359.9 1153.4a9.65 9.65 0 1 0 19.3 0a9.65 9.65 0 1 0 -19.3 0zM1365.8 1151.1a9.65 9.65 0 1 0 19.3 0a9.65 9.65 0 1 0 -19.3 0zM1371.7 1147.8a9.65 9.65 0 1 0 19.3 0a9.65 9.65 0 1 0 -19.3 0zM1377.5 1146.0a9.65 9.65 0 1 0 19.3 0a9.65 9.65 0 1 0 -19.3 0zM1383.4 1143.9a9.65 9.65 0 1 0 19.3 0a9.65 9.65 0 1 0 -19.3 0zM1389.3 1147.5a9.65 9.65 0 1 0 19.3 0a9.65 9.65 0 1 0 -19.3 0zM1395.1 1145.8a9.65 9.65 0 1 0 19.3 0a9.65 9.65 0 1 0 -19.3 0zM1401.0 1142.2a9.65 9.65 0 1 0 19.3 0a9.65 9.65 0 1 0 -19.3 0zM1406.9 1141.3a9.65 9.65 0 1 0 19.3 0a9.65 9.65 0 1 0 -19.3 0zM1412.7 1140.3a9.65 9.65 0 1 0 19.3 0a9.65 9.65 0 1 0 -19.3 0zM1418.6 1139.0a9.65 9.65 0 1 0 19.3 0a9.65 9.65 0 1 0 -19.3 0zM1424.5 1136.4a9.65 9.65 0 1 0 19.3 0a9.65 9.65 0 1 0 -19.3 0zM1430.4 1148.6a9.65 9.65 0 1 0 19.3 0a9.65 9.65 0 1 0 -19.3 0zM1436.2 1148.1a9.65 9.65 0 1 0 19.3 0a9.65 9.65 0 1 0 -19.3 0zM1442.1 1144.3a9.65 9.65 0 1 0 19.3 0a9.65 9.65 0 1 0 -19.3 0zM1448.0 1154.3a9.65 9.65 0 1 0 19.3 0a9.65 9.65 0 1 0 -19.3 0zM1453.8 1147.2a9.65 9.65 0 1 0 19.3 0a9.65 9.65 0 1 0 -19.3 0zM1459.7 1142.0a9.65 9.65 0 1 0 19.3 0a9.65 9.65 0 1 0 -19.3 0zM1465.6 1137.9a9.65 9.65 0 1 0 19.3 0a9.65 9.65 0 1 0 -19.3 0zM1471.4 1132.2a9.65 9.65 0 1 0 19.3 0a9.65 9.65 0 1 0 -19.3 0zM1477.3 1129.7a9.65 9.65 0 1 0 19.3 0a9.65 9.65 0 1 0 -19.3 0zM1483.2 1126.7a9.65 9.65 0 1 0 19.3 0a9.65 9.65 0 1 0 -19.3 0zM1489.0 1124.9a9.65 9.65 0 1 0 19.3 0a9.65 9.65 0 1 0 -19.3 0zM1494.9 1128.3a9.65 9.65 0 1 0 19.3 0a9.65 9.65 0 1 0 -19.3 0zM1500.8 1125.2a9.65 9.65 0 1 0 19.3 0a9.65 9.65 0 1 0 -19.3 0zM1506.6 1123.4a9.65 9.65 0 1 0 19.3 0a9.65 9.65 0 1 0 -19.3 0zM1512.5 1125.3a9.65 9.65 0 1 0 19.3 0a9.65 9.65 0 1 0 -19.3 0zM1518.4 1123.7a9.65 9.65 0 1 0 19.3 0a9.65 9.65 0 1 0 -19.3 0zM1524.3 1126.9a9.65 9.65 0 1 0 19.3 0a9.65 9.65 0 1 0 -19.3 0zM1530.1 1129.9a9.65 9.65 0 1 0 19.3 0a9.65 9.65 0 1 0 -19.3 0zM1536.0 1130.2a9.65 9.65 0 1 0 19.3 0a9.65 9.65 0 1 0 -19.3 0zM1541.9 1131.8a9.65 9.65 0 1 0 19.3 0a9.65 9.65 0 1 0 -19.3 0zM1547.7 1132.0a9.65 9.65 0 1 0 19.3 0a9.65 9.65 0 1 0 -19.3 0zM1553.6 1134.9a9.65 9.65 0 1 0 19.3 0a9.65 9.65 0 1 0 -19.3 0zM1559.5 1132.8a9.65 9.65 0 1 0 19.3 0a9.65 9.65 0 1 0 -19.3 0zM1565.3 1135.9a9.65 9.65 0 1 0 19.3 0a9.65 9.65 0 1 0 -19.3 0zM1571.2 1135.0a9.65 9.65 0 1 0 19.3 0a9.65 9.65 0 1 0 -19.3 0zM1577.1 1136.3a9.65 9.65 0 1 0 19.3 0a9.65 9.65 0 1 0 -19.3 0zM1582.9 1134.4a9.65 9.65 0 1 0 19.3 0a9.65 9.65 0 1 0 -19.3 0zM1588.8 1138.1a9.65 9.65 0 1 0 19.3 0a9.65 9.65 0 1 0 -19.3 0zM1594.7 1145.2a9.65 9.65 0 1 0 19.3 0a9.65 9.65 0 1 0 -19.3 0zM1600.5 1150.3a9.65 9.65 0 1 0 19.3 0a9.65 9.65 0 1 0 -19.3 0zM1606.4 1153.9a9.65 9.65 0 1 0 19.3 0a9.65 9.65 0 1 0 -19.3 0zM1612.3 1158.0a9.65 9.65 0 1 0 19.3 0a9.65 9.65 0 1 0 -19.3 0zM1618.2 1155.3a9.65 9.65 0 1 0 19.3 0a9.65 9.65 0 1 0 -19.3 0zM1624.0 1152.3a9.65 9.65 0 1 0 19.3 0a9.65 9.65 0 1 0 -19.3 0zM1629.9 1147.1a9.65 9.65 0 1 0 19.3 0a9.65 9.65 0 1 0 -19.3 0zM1635.8 1145.8a9.65 9.65 0 1 0 19.3 0a9.65 9.65 0 1 0 -19.3 0zM1641.6 1142.3a9.65 9.65 0 1 0 19.3 0a9.65 9.65 0 1 0 -19.3 0zM1647.5 1141.1a9.65 9.65 0 1 0 19.3 0a9.65 9.65 0 1 0 -19.3 0zM1653.4 1141.5a9.65 9.65 0 1 0 19.3 0a9.65 9.65 0 1 0 -19.3 0zM1659.2 1143.1a9.65 9.65 0 1 0 19.3 0a9.65 9.65 0 1 0 -19.3 0zM1665.1 1143.3a9.65 9.65 0 1 0 19.3 0a9.65 9.65 0 1 0 -19.3 0zM1671.0 1151.1a9.65 9.65 0 1 0 19.3 0a9.65 9.65 0 1 0 -19.3 0zM1676.8 1158.0a9.65 9.65 0 1 0 19.3 0a9.65 9.65 0 1 0 -19.3 0zM1682.7 1144.2a9.65 9.65 0 1 0 19.3 0a9.65 9.65 0 1 0 -19.3 0zM1688.6 1144.9a9.65 9.65 0 1 0 19.3 0a9.65 9.65 0 1 0 -19.3 0zM1694.4 1143.4a9.65 9.65 0 1 0 19.3 0a9.65 9.65 0 1 0 -19.3 0zM1700.3 1141.6a9.65 9.65 0 1 0 19.3 0a9.65 9.65 0 1 0 -19.3 0zM1706.2 1140.8a9.65 9.65 0 1 0 19.3 0a9.65 9.65 0 1 0 -19.3 0zM1712.1 1142.2a9.65 9.65 0 1 0 19.3 0a9.65 9.65 0 1 0 -19.3 0zM1717.9 1136.3a9.65 9.65 0 1 0 19.3 0a9.65 9.65 0 1 0 -19.3 0zM1723.8 1130.3a9.65 9.65 0 1 0 19.3 0a9.65 9.65 0 1 0 -19.3 0zM1729.7 1138.3a9.65 9.65 0 1 0 19.3 0a9.65 9.65 0 1 0 -19.3 0zM1735.5 1148.3a9.65 9.65 0 1 0 19.3 0a9.65 9.65 0 1 0 -19.3 0zM1741.4 1146.0a9.65 9.65 0 1 0 19.3 0a9.65 9.65 0 1 0 -19.3 0zM1747.3 1142.1a9.65 9.65 0 1 0 19.3 0a9.65 9.65 0 1 0 -19.3 0zM1753.1 1136.7a9.65 9.65 0 1 0 19.3 0a9.65 9.65 0 1 0 -19.3 0zM1759.0 1133.9a9.65 9.65 0 1 0 19.3 0a9.65 9.65 0 1 0 -19.3 0zM1764.9 1136.0a9.65 9.65 0 1 0 19.3 0a9.65 9.65 0 1 0 -19.3 0zM1770.7 1133.9a9.65 9.65 0 1 0 19.3 0a9.65 9.65 0 1 0 -19.3 0zM1776.6 1138.0a9.65 9.65 0 1 0 19.3 0a9.65 9.65 0 1 0 -19.3 0zM1782.5 1136.0a9.65 9.65 0 1 0 19.3 0a9.65 9.65 0 1 0 -19.3 0zM1788.3 1132.3a9.65 9.65 0 1 0 19.3 0a9.65 9.65 0 1 0 -19.3 0zM1794.2 1136.5a9.65 9.65 0 1 0 19.3 0a9.65 9.65 0 1 0 -19.3 0zM1800.1 1139.6a9.65 9.65 0 1 0 19.3 0a9.65 9.65 0 1 0 -19.3 0zM1806.0 1142.6a9.65 9.65 0 1 0 19.3 0a9.65 9.65 0 1 0 -19.3 0zM1811.8 1142.3a9.65 9.65 0 1 0 19.3 0a9.65 9.65 0 1 0 -19.3 0zM1817.7 1136.9a9.65 9.65 0 1 0 19.3 0a9.65 9.65 0 1 0 -19.3 0zM1823.6 1139.4a9.65 9.65 0 1 0 19.3 0a9.65 9.65 0 1 0 -19.3 0zM1829.4 1140.5a9.65 9.65 0 1 0 19.3 0a9.65 9.65 0 1 0 -19.3 0zM1835.3 1138.0a9.65 9.65 0 1 0 19.3 0a9.65 9.65 0 1 0 -19.3 0zM1841.2 1138.3a9.65 9.65 0 1 0 19.3 0a9.65 9.65 0 1 0 -19.3 0zM1847.0 1141.1a9.65 9.65 0 1 0 19.3 0a9.65 9.65 0 1 0 -19.3 0zM1852.9 1143.1a9.65 9.65 0 1 0 19.3 0a9.65 9.65 0 1 0 -19.3 0zM1858.8 1143.4a9.65 9.65 0 1 0 19.3 0a9.65 9.65 0 1 0 -19.3 0zM1864.6 1146.2a9.65 9.65 0 1 0 19.3 0a9.65 9.65 0 1 0 -19.3 0zM1870.5 1148.8a9.65 9.65 0 1 0 19.3 0a9.65 9.65 0 1 0 -19.3 0zM1876.4 1154.9a9.65 9.65 0 1 0 19.3 0a9.65 9.65 0 1 0 -19.3 0zM1882.2 1148.9a9.65 9.65 0 1 0 19.3 0a9.65 9.65 0 1 0 -19.3 0zM1888.1 1140.2a9.65 9.65 0 1 0 19.3 0a9.65 9.65 0 1 0 -19.3 0zM1894.0 1143.5a9.65 9.65 0 1 0 19.3 0a9.65 9.65 0 1 0 -19.3 0zM1899.9 1144.2a9.65 9.65 0 1 0 19.3 0a9.65 9.65 0 1 0 -19.3 0zM1905.7 1142.7a9.65 9.65 0 1 0 19.3 0a9.65 9.65 0 1 0 -19.3 0zM1911.6 1141.2a9.65 9.65 0 1 0 19.3 0a9.65 9.65 0 1 0 -19.3 0zM1917.5 1145.2a9.65 9.65 0 1 0 19.3 0a9.65 9.65 0 1 0 -19.3 0zM1923.3 1146.3a9.65 9.65 0 1 0 19.3 0a9.65 9.65 0 1 0 -19.3 0zM1929.2 1148.8a9.65 9.65 0 1 0 19.3 0a9.65 9.65 0 1 0 -19.3 0zM1935.1 1149.6a9.65 9.65 0 1 0 19.3 0a9.65 9.65 0 1 0 -19.3 0zM1940.9 1144.3a9.65 9.65 0 1 0 19.3 0a9.65 9.65 0 1 0 -19.3 0zM1946.8 1139.9a9.65 9.65 0 1 0 19.3 0a9.65 9.65 0 1 0 -19.3 0zM1952.7 1144.7a9.65 9.65 0 1 0 19.3 0a9.65 9.65 0 1 0 -19.3 0zM1958.5 1145.1a9.65 9.65 0 1 0 19.3 0a9.65 9.65 0 1 0 -19.3 0zM1964.4 1150.1a9.65 9.65 0 1 0 19.3 0a9.65 9.65 0 1 0 -19.3 0zM1970.3 1152.7a9.65 9.65 0 1 0 19.3 0a9.65 9.65 0 1 0 -19.3 0zM1976.1 1146.1a9.65 9.65 0 1 0 19.3 0a9.65 9.65 0 1 0 -19.3 0zM1982.0 1142.6a9.65 9.65 0 1 0 19.3 0a9.65 9.65 0 1 0 -19.3 0zM1987.9 1145.4a9.65 9.65 0 1 0 19.3 0a9.65 9.65 0 1 0 -19.3 0zM1993.8 1147.8a9.65 9.65 0 1 0 19.3 0a9.65 9.65 0 1 0 -19.3 0z"/>
<path d="M278.0 175.2 L283.9 166.7 L289.7 158.1 L295.6 149.6 L301.5 162.8 L307.3 176.1 L313.2 168.4 L319.1 160.7 L324.9 181.2 L330.8 176.0 L336.7 170.8 L342.6 175.4 L348.4 180.0 L354.3 202.1 L360.2 205.1 L366.0 208.0 L371.9 240.0 L377.8 273.5 L383.6 276.0 L389.5 278.5 L395.4 299.6 L401.2 314.5 L407.1 319.7 L413.0 330.0 L418.8 346.0 L424.7 352.9 L430.6 348.8 L436.5 344.8 L442.3 340.7 L448.2 362.0 L454.1 392.3 L459.9 398.0 L465.8 401.0 L471.7 423.0 L477.5 413.0 L483.4 403.0 L489.3 393.0 L495.1 432.4 L501.0 455.5 L506.9 491.2 L512.7 526.7 L518.6 604.4 L524.5 634.5 L530.4 677.8 L536.2 725.1 L542.1 801.6 L548.0 845.5 L553.8 911.0 L559.7 925.0 L565.6 915.0 L571.4 908.0 L577.3 922.4 L583.2 924.9 L589.0 924.1 L594.9 926.6 L600.8 933.8 L606.6 936.0 L612.5 941.0 L618.4 946.2 L624.3 962.8 L630.1 968.9 L636.0 981.8 L641.9 994.5 L647.7 996.9 L653.6 995.1 L659.5 991.1 L665.3 986.3 L671.2 978.6 L677.1 975.8 L682.9 977.3 L688.8 975.9 L694.7 978.5 L700.5 980.1 L706.4 981.2 L712.3 983.0 L718.2 985.0 L724.0 983.3 L729.9 981.7 L735.8 978.3 L741.6 975.8 L747.5 973.7 L753.4 971.8 L759.2 971.8 L765.1 971.3 L771.0 970.9 L776.8 970.7 L782.7 971.8 L788.6 972.3 L794.4 973.4 L800.3 973.0 L806.2 972.6 L812.1 970.8 L817.9 968.6 L823.8 965.9 L829.7 963.2 L835.5 962.6 L841.4 961.4 L847.3 960.5 L853.1 961.0 L859.0 961.0 L864.9 961.7 L870.7 962.5 L876.6 964.1 L882.5 965.3 L888.3 967.0 L894.2 970.0 L900.1 972.4 L906.0 975.3 L911.8 978.5 L917.7 982.2 L923.6 985.6 L929.4 987.4 L935.3 988.5 L941.2 990.7 L947.0 995.2 L952.9 999.4 L958.8 1004.5 L964.6 1009.2 L970.5 1012.4 L976.4 1016.8 L982.2 1020.1 L988.1 1019.8 L994.0 1019.8 L999.9 1019.3 L1005.7 1018.3 L1011.6 1019.5 L1017.5 1020.5 L1023.3 1021.4 L1029.2 1020.3 L1035.1 1019.5 L1040.9 1018.8 L1046.8 1017.3 L1052.7 1015.6 L1058.5 1013.4 L1064.4 1010.9 L1070.3 1008.7 L1076.1 1006.4 L1082.0 1003.8 L1087.9 1002.6 L1093.8 1002.4 L1099.6 1001.3 L1105.5 1000.6 L1111.4 997.7 L1117.2 995.6 L1123.1 994.1 L1129.0 993.3 L1134.8 991.6 L1140.7 990.1 L1146.6 989.0 L1152.4 988.0 L1158.3 986.9 L1164.2 985.4 L1170.0 984.2 L1175.9 983.8 L1181.8 982.4 L1187.6 981.5 L1193.5 980.5 L1199.4 980.1 L1205.3 980.2 L1211.1 981.3 L1217.0 982.3 L1222.9 984.3 L1228.7 985.4 L1234.6 985.7 L1240.5 985.3 L1246.3 986.1 L1252.2 985.7 L1258.1 987.7 L1263.9 988.7 L1269.8 990.0 L1275.7 990.1 L1281.5 990.3 L1287.4 989.7 L1293.3 989.5 L1299.2 989.8 L1305.0 989.5 L1310.9 989.1 L1316.8 988.9 L1322.6 988.5 L1328.5 988.3 L1334.4 988.1 L1340.2 987.8 L1346.1 988.1 L1352.0 987.5 L1357.8 987.6 L1363.7 987.2 L1369.6 987.2 L1375.4 986.8 L1381.3 986.8 L1387.2 988.6 L1393.1 991.2 L1398.9 993.0 L1404.8 994.8 L1410.7 996.2 L1416.5 997.7 L1422.4 998.2 L1428.3 1000.0 L1434.1 1000.8 L1440.0 1000.4 L1445.9 1000.1 L1451.7 999.2 L1457.6 998.8 L1463.5 998.0 L1469.3 997.4 L1475.2 995.9 L1481.1 995.4 L1487.0 994.4 L1492.8 993.4 L1498.7 993.9 L1504.6 994.4 L1510.4 994.8 L1516.3 996.0 L1522.2 997.1 L1528.0 998.7 L1533.9 999.4 L1539.8 1000.5 L1545.6 1001.6 L1551.5 1003.4 L1557.4 1004.6 L1563.2 1005.6 L1569.1 1005.3 L1575.0 1005.3 L1580.9 1005.3 L1586.7 1003.7 L1592.6 1001.7 L1598.5 1000.1 L1604.3 998.2 L1610.2 997.4 L1616.1 996.1 L1621.9 994.4 L1627.8 995.9 L1633.7 998.2 L1639.5 999.4 L1645.4 1001.2 L1651.3 996.9 L1657.1 993.1 L1663.0 989.2 L1668.9 986.8 L1674.8 984.1 L1680.6 981.9 L1686.5 982.1 L1692.4 982.8 L1698.2 983.2 L1704.1 984.0 L1710.0 982.8 L1715.8 981.9 L1721.7 981.1 L1727.6 980.2 L1733.4 979.5 L1739.3 978.5 L1745.2 979.3 L1751.0 979.7 L1756.9 980.3 L1762.8 981.0 L1768.7 979.3 L1774.5 978.0 L1780.4 977.2 L1786.3 975.3 L1792.1 974.5 L1798.0 973.1 L1803.9 975.8 L1809.7 979.7 L1815.6 982.9 L1821.5 985.9 L1827.3 984.8 L1833.2 983.7 L1839.1 982.0 L1844.9 981.1 L1850.8 980.5 L1856.7 980.2 L1862.6 979.5 L1868.4 979.0 L1874.3 978.2 L1880.2 977.8 L1886.0 977.5 L1891.9 977.3 L1897.8 976.8 L1903.6 975.7 L1909.5 974.8 L1915.4 974.1 L1921.2 975.6 L1927.1 977.9 L1933.0 979.3 L1938.8 977.6 L1944.7 975.9 L1950.6 974.1 L1956.5 974.7 L1962.3 974.9 L1968.2 976.2 L1974.1 974.5 L1979.9 972.7 L1985.8 978.0 L1991.7 983.2 L1997.5 995.2 L2003.4 999.7" fill="none" stroke="#00f" stroke-width="4.5"/>
<path fill="#00f" d="M268.4 175.2a9.65 9.65 0 1 0 19.3 0a9.65 9.65 0 1 0 -19.3 0zM274.2 166.7a9.65 9.65 0 1 0 19.3 0a9.65 9.65 0 1 0 -19.3 0zM280.1 158.1a9.65 9.65 0 1 0 19.3 0a9.65 9.65 0 1 0 -19.3 0zM286.0 149.6a9.65 9.65 0 1 0 19.3 0a9.65 9.65 0 1 0 -19.3 0zM291.8 162.8a9.65 9.65 0 1 0 19.3 0a9.65 9.65 0 1 0 -19.3 0zM297.7 176.1a9.65 9.65 0 1 0 19.3 0a9.65 9.65 0 1 0 -19.3 0zM303.6 168.4a9.65 9.65 0 1 0 19.3 0a9.65 9.65 0 1 0 -19.3 0zM309.4 160.7a9.65 9.65 0 1 0 19.3 0a9.65 9.65 0 1 0 -19.3 0zM315.3 181.2a9.65 9.65 0 1 0 19.3 0a9.65 9.65 0 1 0 -19.3 0zM321.2 176.0a9.65 9.65 0 1 0 19.3 0a9.65 9.65 0 1 0 -19.3 0zM327.0 170.8a9.65 9.65 0 1 0 19.3 0a9.65 9.65 0 1 0 -19.3 0zM332.9 175.4a9.65 9.65 0 1 0 19.3 0a9.65 9.65 0 1 0 -19.3 0zM338.8 180.0a9.65 9.65 0 1 0 19.3 0a9.65 9.65 0 1 0 -19.3 0zM344.6 202.1a9.65 9.65 0 1 0 19.3 0a9.65 9.65 0 1 0 -19.3 0zM350.5 205.1a9.65 9.65 0 1 0 19.3 0a9.65 9.65 0 1 0 -19.3 0zM356.4 208.0a9.65 9.65 0 1 0 19.3 0a9.65 9.65 0 1 0 -19.3 0zM362.2 240.0a9.65 9.65 0 1 0 19.3 0a9.65 9.65 0 1 0 -19.3 0zM368.1 273.5a9.65 9.65 0 1 0 19.3 0a9.65 9.65 0 1 0 -19.3 0zM374.0 276.0a9.65 9.65 0 1 0 19.3 0a9.65 9.65 0 1 0 -19.3 0zM379.9 278.5a9.65 9.65 0 1 0 19.3 0a9.65 9.65 0 1 0 -19.3 0zM385.7 299.6a9.65 9.65 0 1 0 19.3 0a9.65 9.65 0 1 0 -19.3 0zM391.6 314.5a9.65 9.65 0 1 0 19.3 0a9.65 9.65 0 1 0 -19.3 0zM397.5 319.7a9.65 9.65 0 1 0 19.3 0a9.65 9.65 0 1 0 -19.3 0zM403.3 330.0a9.65 9.65 0 1 0 19.3 0a9.65 9.65 0 1 0 -19.3 0zM409.2 346.0a9.65 9.65 0 1 0 19.3 0a9.65 9.65 0 1 0 -19.3 0zM415.1 352.9a9.65 9.65 0 1 0 19.3 0a9.65 9.65 0 1 0 -19.3 0zM420.9 348.8a9.65 9.65 0 1 0 19.3 0a9.65 9.65 0 1 0 -19.3 0zM426.8 344.8a9.65 9.65 0 1 0 19.3 0a9.65 9.65 0 1 0 -19.3 0zM432.7 340.7a9.65 9.65 0 1 0 19.3 0a9.65 9.65 0 1 0 -19.3 0zM438.5 362.0a9.65 9.65 0 1 0 19.3 0a9.65 9.65 0 1 0 -19.3 0zM444.4 392.3a9.65 9.65 0 1 0 19.3 0a9.65 9.65 0 1 0 -19.3 0zM450.3 398.0a9.65 9.65 0 1 0 19.3 0a9.65 9.65 0 1 0 -19.3 0zM456.1 401.0a9.65 9.65 0 1 0 19.3 0a9.65 9.65 0 1 0 -19.3 0zM462.0 423.0a9.65 9.65 0 1 0 19.3 0a9.65 9.65 0 1 0 -19.3 0zM467.9 413.0a9.65 9.65 0 1 0 19.3 0a9.65 9.65 0 1 0 -19.3 0zM473.8 403.0a9.65 9.65 0 1 0 19.3 0a9.65 9.65 0 1 0 -19.3 0zM479.6 393.0a9.65 9.65 0 1 0 19.3 0a9.65 9.65 0 1 0 -19.3 0zM485.5 432.4a9.65 9.65 0 1 0 19.3 0a9.65 9.65 0 1 0 -19.3 0zM491.4 455.5a9.65 9.65 0 1 0 19.3 0a9.65 9.65 0 1 0 -19.3 0zM497.2 491.2a9.65 9.65 0 1 0 19.3 0a9.65 9.65 0 1 0 -19.3 0zM503.1 526.7a9.65 9.65 0 1 0 19.3 0a9.65 9.65 0 1 0 -19.3 0zM509.0 604.4a9.65 9.65 0 1 0 19.3 0a9.65 9.65 0 1 0 -19.3 0zM514.8 634.5a9.65 9.65 0 1 0 19.3 0a9.65 9.65 0 1 0 -19.3 0zM520.7 677.8a9.65 9.65 0 1 0 19.3 0a9.65 9.65 0 1 0 -19.3 0zM526.6 725.1a9.65 9.65 0 1 0 19.3 0a9.65 9.65 0 1 0 -19.3 0zM532.4 801.6a9.65 9.65 0 1 0 19.3 0a9.65 9.65 0 1 0 -19.3 0zM538.3 845.5a9.65 9.65 0 1 0 19.3 0a9.65 9.65 0 1 0 -19.3 0zM544.2 911.0a9.65 9.65 0 1 0 19.3 0a9.65 9.65 0 1 0 -19.3 0zM550.0 925.0a9.65 9.65 0 1 0 19.3 0a9.65 9.65 0 1 0 -19.3 0zM555.9 915.0a9.65 9.65 0 1 0 19.3 0a9.65 9.65 0 1 0 -19.3 0zM561.8 908.0a9.65 9.65 0 1 0 19.3 0a9.65 9.65 0 1 0 -19.3 0zM567.7 922.4a9.65 9.65 0 1 0 19.3 0a9.65 9.65 0 1 0 -19.3 0zM573.5 924.9a9.65 9.65 0 1 0 19.3 0a9.65 9.65 0 1 0 -19.3 0zM579.4 924.1a9.65 9.65 0 1 0 19.3 0a9.65 9.65 0 1 0 -19.3 0zM585.3 926.6a9.65 9.65 0 1 0 19.3 0a9.65 9.65 0 1 0 -19.3 0zM591.1 933.8a9.65 9.65 0 1 0 19.3 0a9.65 9.65 0 1 0 -19.3 0zM597.0 936.0a9.65 9.65 0 1 0 19.3 0a9.65 9.65 0 1 0 -19.3 0zM602.9 941.0a9.65 9.65 0 1 0 19.3 0a9.65 9.65 0 1 0 -19.3 0zM608.7 946.2a9.65 9.65 0 1 0 19.3 0a9.65 9.65 0 1 0 -19.3 0zM614.6 962.8a9.65 9.65 0 1 0 19.3 0a9.65 9.65 0 1 0 -19.3 0zM620.5 968.9a9.65 9.65 0 1 0 19.3 0a9.65 9.65 0 1 0 -19.3 0zM626.3 981.8a9.65 9.65 0 1 0 19.3 0a9.65 9.65 0 1 0 -19.3 0zM632.2 994.5a9.65 9.65 0 1 0 19.3 0a9.65 9.65 0 1 0 -19.3 0zM638.1 996.9a9.65 9.65 0 1 0 19.3 0a9.65 9.65 0 1 0 -19.3 0zM643.9 995.1a9.65 9.65 0 1 0 19.3 0a9.65 9.65 0 1 0 -19.3 0zM649.8 991.1a9.65 9.65 0 1 0 19.3 0a9.65 9.65 0 1 0 -19.3 0zM655.7 986.3a9.65 9.65 0 1 0 19.3 0a9.65 9.65 0 1 0 -19.3 0zM661.6 978.6a9.65 9.65 0 1 0 19.3 0a9.65 9.65 0 1 0 -19.3 0zM667.4 975.8a9.65 9.65 0 1 0 19.3 0a9.65 9.65 0 1 0 -19.3 0zM673.3 977.3a9.65 9.65 0 1 0 19.3 0a9.65 9.65 0 1 0 -19.3 0zM679.2 975.9a9.65 9.65 0 1 0 19.3 0a9.65 9.65 0 1 0 -19.3 0zM685.0 978.5a9.65 9.65 0 1 0 19.3 0a9.65 9.65 0 1 0 -19.3 0zM690.9 980.1a9.65 9.65 0 1 0 19.3 0a9.65 9.65 0 1 0 -19.3 0zM696.8 981.2a9.65 9.65 0 1 0 19.3 0a9.65 9.65 0 1 0 -19.3 0zM702.6 983.0a9.65 9.65 0 1 0 19.3 0a9.65 9.65 0 1 0 -19.3 0zM708.5 985.0a9.65 9.65 0 1 0 19.3 0a9.65 9.65 0 1 0 -19.3 0zM714.4 983.3a9.65 9.65 0 1 0 19.3 0a9.65 9.65 0 1 0 -19.3 0zM720.2 981.7a9.65 9.65 0 1 0 19.3 0a9.65 9.65 0 1 0 -19.3 0zM726.1 978.3a9.65 9.65 0 1 0 19.3 0a9.65 9.65 0 1 0 -19.3 0zM732.0 975.8a9.65 9.65 0 1 0 19.3 0a9.65 9.65 0 1 0 -19.3 0zM737.8 973.7a9.65 9.65 0 1 0 19.3 0a9.65 9.65 0 1 0 -19.3 0zM743.7 971.8a9.65 9.65 0 1 0 19.3 0a9.65 9.65 0 1 0 -19.3 0zM749.6 971.8a9.65 9.65 0 1 0 19.3 0a9.65 9.65 0 1 0 -19.3 0zM755.5 971.3a9.65 9.65 0 1 0 19.3 0a9.65 9.65 0 1 0 -19.3 0zM761.3 970.9a9.65 9.65 0 1 0 19.3 0a9.65 9.65 0 1 0 -19.3 0zM767.2 970.7a9.65 9.65 0 1 0 19.3 0a9.65 9.65 0 1 0 -19.3 0zM773.1 971.8a9.65 9.65 0 1 0 19.3 0a9.65 9.65 0 1 0 -19.3 0zM778.9 972.3a9.65 9.65 0 1 0 19.3 0a9.65 9.65 0 1 0 -19.3 0zM784.8 973.4a9.65 9.65 0 1 0 19.3 0a9.65 9.65 0 1 0 -19.3 0zM790.7 973.0a9.65 9.65 0 1 0 19.3 0a9.65 9.65 0 1 0 -19.3 0zM796.5 972.6a9.65 9.65 0 1 0 19.3 0a9.65 9.65 0 1 0 -19.3 0zM802.4 970.8a9.65 9.65 0 1 0 19.3 0a9.65 9.65 0 1 0 -19.3 0zM808.3 968.6a9.65 9.65 0 1 0 19.3 0a9.65 9.65 0 1 0 -19.3 0zM814.1 965.9a9.65 9.65 0 1 0 19.3 0a9.65 9.65 0 1 0 -19.3 0zM820.0 963.2a9.65 9.65 0 1 0 19.3 0a9.65 9.65 0 1 0 -19.3 0zM825.9 962.6a9.65 9.65 0 1 0 19.3 0a9.65 9.65 0 1 0 -19.3 0zM831.7 961.4a9.65 9.65 0 1 0 19.3 0a9.65 9.65 0 1 0 -19.3 0zM837.6 960.5a9.65 9.65 0 1 0 19.3 0a9.65 9.65 0 1 0 -19.3 0zM843.5 961.0a9.65 9.65 0 1 0 19.3 0a9.65 9.65 0 1 0 -19.3 0zM849.4 961.0a9.65 9.65 0 1 0 19.3 0a9.65 9.65 0 1 0 -19.3 0zM855.2 961.7a9.65 9.65 0 1 0 19.3 0a9.65 9.65 0 1 0 -19.3 0zM861.1 962.5a9.65 9.65 0 1 0 19.3 0a9.65 9.65 0 1 0 -19.3 0zM867.0 964.1a9.65 9.65 0 1 0 19.3 0a9.65 9.65 0 1 0 -19.3 0zM872.8 965.3a9.65 9.65 0 1 0 19.3 0a9.65 9.65 0 1 0 -19.3 0zM878.7 967.0a9.65 9.65 0 1 0 19.3 0a9.65 9.65 0 1 0 -19.3 0zM884.6 970.0a9.65 9.65 0 1 0 19.3 0a9.65 9.65 0 1 0 -19.3 0zM890.4 972.4a9.65 9.65 0 1 0 19.3 0a9.65 9.65 0 1 0 -19.3 0zM896.3 975.3a9.65 9.65 0 1 0 19.3 0a9.65 9.65 0 1 0 -19.3 0zM902.2 978.5a9.65 9.65 0 1 0 19.3 0a9.65 9.65 0 1 0 -19.3 0zM908.0 982.2a9.65 9.65 0 1 0 19.3 0a9.65 9.65 0 1 0 -19.3 0zM913.9 985.6a9.65 9.65 0 1 0 19.3 0a9.65 9.65 0 1 0 -19.3 0zM919.8 987.4a9.65 9.65 0 1 0 19.3 0a9.65 9.65 0 1 0 -19.3 0zM925.6 988.5a9.65 9.65 0 1 0 19.3 0a9.65 9.65 0 1 0 -19.3 0zM931.5 990.7a9.65 9.65 0 1 0 19.3 0a9.65 9.65 0 1 0 -19.3 0zM937.4 995.2a9.65 9.65 0 1 0 19.3 0a9.65 9.65 0 1 0 -19.3 0zM943.3 999.4a9.65 9.65 0 1 0 19.3 0a9.65 9.65 0 1 0 -19.3 0zM949.1 1004.5a9.65 9.65 0 1 0 19.3 0a9.65 9.65 0 1 0 -19.3 0zM955.0 1009.2a9.65 9.65 0 1 0 19.3 0a9.65 9.65 0 1 0 -19.3 0zM960.9 1012.4a9.65 9.65 0 1 0 19.3 0a9.65 9.65 0 1 0 -19.3 0zM966.7 1016.8a9.65 9.65 0 1 0 19.3 0a9.65 9.65 0 1 0 -19.3 0zM972.6 1020.1a9.65 9.65 0 1 0 19.3 0a9.65 9.65 0 1 0 -19.3 0zM978.5 1019.8a9.65 9.65 0 1 0 19.3 0a9.65 9.65 0 1 0 -19.3 0zM984.3 1019.8a9.65 9.65 0 1 0 19.3 0a9.65 9.65 0 1 0 -19.3 0zM990.2 1019.3a9.65 9.65 0 1 0 19.3 0a9.65 9.65 0 1 0 -19.3 0zM996.1 1018.3a9.65 9.65 0 1 0 19.3 0a9.65 9.65 0 1 0 -19.3 0zM1001.9 1019.5a9.65 9.65 0 1 0 19.3 0a9.65 9.65 0 1 0 -19.3 0zM1007.8 1020.5a9.65 9.65 0 1 0 19.3 0a9.65 9.65 0 1 0 -19.3 0zM1013.7 1021.4a9.65 9.65 0 1 0 19.3 0a9.65 9.65 0 1 0 -19.3 0zM1019.5 1020.3a9.65 9.65 0 1 0 19.3 0a9.65 9.65 0 1 0 -19.3 0zM1025.4 1019.5a9.65 9.65 0 1 0 19.3 0a9.65 9.65 0 1 0 -19.3 0zM1031.3 1018.8a9.65 9.65 0 1 0 19.3 0a9.65 9.65 0 1 0 -19.3 0zM1037.2 1017.3a9.65 9.65 0 1 0 19.3 0a9.65 9.65 0 1 0 -19.3 0zM1043.0 1015.6a9.65 9.65 0 1 0 19.3 0a9.65 9.65 0 1 0 -19.3 0zM1048.9 1013.4a9.65 9.65 0 1 0 19.3 0a9.65 9.65 0 1 0 -19.3 0zM1054.8 1010.9a9.65 9.65 0 1 0 19.3 0a9.65 9.65 0 1 0 -19.3 0zM1060.6 1008.7a9.65 9.65 0 1 0 19.3 0a9.65 9.65 0 1 0 -19.3 0zM1066.5 1006.4a9.65 9.65 0 1 0 19.3 0a9.65 9.65 0 1 0 -19.3 0zM1072.4 1003.8a9.65 9.65 0 1 0 19.3 0a9.65 9.65 0 1 0 -19.3 0zM1078.2 1002.6a9.65 9.65 0 1 0 19.3 0a9.65 9.65 0 1 0 -19.3 0zM1084.1 1002.4a9.65 9.65 0 1 0 19.3 0a9.65 9.65 0 1 0 -19.3 0zM1090.0 1001.3a9.65 9.65 0 1 0 19.3 0a9.65 9.65 0 1 0 -19.3 0zM1095.8 1000.6a9.65 9.65 0 1 0 19.3 0a9.65 9.65 0 1 0 -19.3 0zM1101.7 997.7a9.65 9.65 0 1 0 19.3 0a9.65 9.65 0 1 0 -19.3 0zM1107.6 995.6a9.65 9.65 0 1 0 19.3 0a9.65 9.65 0 1 0 -19.3 0zM1113.4 994.1a9.65 9.65 0 1 0 19.3 0a9.65 9.65 0 1 0 -19.3 0zM1119.3 993.3a9.65 9.65 0 1 0 19.3 0a9.65 9.65 0 1 0 -19.3 0zM1125.2 991.6a9.65 9.65 0 1 0 19.3 0a9.65 9.65 0 1 0 -19.3 0zM1131.1 990.1a9.65 9.65 0 1 0 19.3 0a9.65 9.65 0 1 0 -19.3 0zM1136.9 989.0a9.65 9.65 0 1 0 19.3 0a9.65 9.65 0 1 0 -19.3 0zM1142.8 988.0a9.65 9.65 0 1 0 19.3 0a9.65 9.65 0 1 0 -19.3 0zM1148.7 986.9a9.65 9.65 0 1 0 19.3 0a9.65 9.65 0 1 0 -19.3 0zM1154.5 985.4a9.65 9.65 0 1 0 19.3 0a9.65 9.65 0 1 0 -19.3 0zM1160.4 984.2a9.65 9.65 0 1 0 19.3 0a9.65 9.65 0 1 0 -19.3 0zM1166.3 983.8a9.65 9.65 0 1 0 19.3 0a9.65 9.65 0 1 0 -19.3 0zM1172.1 982.4a9.65 9.65 0 1 0 19.3 0a9.65 9.65 0 1 0 -19.3 0zM1178.0 981.5a9.65 9.65 0 1 0 19.3 0a9.65 9.65 0 1 0 -19.3 0zM1183.9 980.5a9.65 9.65 0 1 0 19.3 0a9.65 9.65 0 1 0 -19.3 0zM1189.7 980.1a9.65 9.65 0 1 0 19.3 0a9.65 9.65 0 1 0 -19.3 0zM1195.6 980.2a9.65 9.65 0 1 0 19.3 0a9.65 9.65 0 1 0 -19.3 0zM1201.5 981.3a9.65 9.65 0 1 0 19.3 0a9.65 9.65 0 1 0 -19.3 0zM1207.3 982.3a9.65 9.65 0 1 0 19.3 0a9.65 9.65 0 1 0 -19.3 0zM1213.2 984.3a9.65 9.65 0 1 0 19.3 0a9.65 9.65 0 1 0 -19.3 0zM1219.1 985.4a9.65 9.65 0 1 0 19.3 0a9.65 9.65 0 1 0 -19.3 0zM1224.9 985.7a9.65 9.65 0 1 0 19.3 0a9.65 9.65 0 1 0 -19.3 0zM1230.8 985.3a9.65 9.65 0 1 0 19.3 0a9.65 9.65 0 1 0 -19.3 0zM1236.7 986.1a9.65 9.65 0 1 0 19.3 0a9.65 9.65 0 1 0 -19.3 0zM1242.6 985.7a9.65 9.65 0 1 0 19.3 0a9.65 9.65 0 1 0 -19.3 0zM1248.4 987.7a9.65 9.65 0 1 0 19.3 0a9.65 9.65 0 1 0 -19.3 0zM1254.3 988.7a9.65 9.65 0 1 0 19.3 0a9.65 9.65 0 1 0 -19.3 0zM1260.2 990.0a9.65 9.65 0 1 0 19.3 0a9.65 9.65 0 1 0 -19.3 0zM1266.0 990.1a9.65 9.65 0 1 0 19.3 0a9.65 9.65 0 1 0 -19.3 0zM1271.9 990.3a9.65 9.65 0 1 0 19.3 0a9.65 9.65 0 1 0 -19.3 0zM1277.8 989.7a9.65 9.65 0 1 0 19.3 0a9.65 9.65 0 1 0 -19.3 0zM1283.6 989.5a9.65 9.65 0 1 0 19.3 0a9.65 9.65 0 1 0 -19.3 0zM1289.5 989.8a9.65 9.65 0 1 0 19.3 0a9.65 9.65 0 1 0 -19.3 0zM1295.4 989.5a9.65 9.65 0 1 0 19.3 0a9.65 9.65 0 1 0 -19.3 0zM1301.2 989.1a9.65 9.65 0 1 0 19.3 0a9.65 9.65 0 1 0 -19.3 0zM1307.1 988.9a9.65 9.65 0 1 0 19.3 0a9.65 9.65 0 1 0 -19.3 0zM1313.0 988.5a9.65 9.65 0 1 0 19.3 0a9.65 9.65 0 1 0 -19.3 0zM1318.8 988.3a9.65 9.65 0 1 0 19.3 0a9.65 9.65 0 1 0 -19.3 0zM1324.7 988.1a9.65 9.65 0 1 0 19.3 0a9.65 9.65 0 1 0 -19.3 0zM1330.6 987.8a9.65 9.65 0 1 0 19.3 0a9.65 9.65 0 1 0 -19.3 0zM1336.5 988.1a9.65 9.65 0 1 0 19.3 0a9.65 9.65 0 1 0 -19.3 0zM1342.3 987.5a9.65 9.65 0 1 0 19.3 0a9.65 9.65 0 1 0 -19.3 0zM1348.2 987.6a9.65 9.65 0 1 0 19.3 0a9.65 9.65 0 1 0 -19.3 0zM1354.1 987.2a9.65 9.65 0 1 0 19.3 0a9.65 9.65 0 1 0 -19.3 0zM1359.9 987.2a9.65 9.65 0 1 0 19.3 0a9.65 9.65 0 1 0 -19.3 0zM1365.8 986.8a9.65 9.65 0 1 0 19.3 0a9.65 9.65 0 1 0 -19.3 0zM1371.7 986.8a9.65 9.65 0 1 0 19.3 0a9.65 9.65 0 1 0 -19.3 0zM1377.5 988.6a9.65 9.65 0 1 0 19.3 0a9.65 9.65 0 1 0 -19.3 0zM1383.4 991.2a9.65 9.65 0 1 0 19.3 0a9.65 9.65 0 1 0 -19.3 0zM1389.3 993.0a9.65 9.65 0 1 0 19.3 0a9.65 9.65 0 1 0 -19.3 0zM1395.1 994.8a9.65 9.65 0 1 0 19.3 0a9.65 9.65 0 1 0 -19.3 0zM1401.0 996.2a9.65 9.65 0 1 0 19.3 0a9.65 9.65 0 1 0 -19.3 0zM1406.9 997.7a9.65 9.65 0 1 0 19.3 0a9.65 9.65 0 1 0 -19.3 0zM1412.7 998.2a9.65 9.65 0 1 0 19.3 0a9.65 9.65 0 1 0 -19.3 0zM1418.6 1000.0a9.65 9.65 0 1 0 19.3 0a9.65 9.65 0 1 0 -19.3 0zM1424.5 1000.8a9.65 9.65 0 1 0 19.3 0a9.65 9.65 0 1 0 -19.3 0zM1430.4 1000.4a9.65 9.65 0 1 0 19.3 0a9.65 9.65 0 1 0 -19.3 0zM1436.2 1000.1a9.65 9.65 0 1 0 19.3 0a9.65 9.65 0 1 0 -19.3 0zM1442.1 999.2a9.65 9.65 0 1 0 19.3 0a9.65 9.65 0 1 0 -19.3 0zM1448.0 998.8a9.65 9.65 0 1 0 19.3 0a9.65 9.65 0 1 0 -19.3 0zM1453.8 998.0a9.65 9.65 0 1 0 19.3 0a9.65 9.65 0 1 0 -19.3 0zM1459.7 997.4a9.65 9.65 0 1 0 19.3 0a9.65 9.65 0 1 0 -19.3 0zM1465.6 995.9a9.65 9.65 0 1 0 19.3 0a9.65 9.65 0 1 0 -19.3 0zM1471.4 995.4a9.65 9.65 0 1 0 19.3 0a9.65 9.65 0 1 0 -19.3 0zM1477.3 994.4a9.65 9.65 0 1 0 19.3 0a9.65 9.65 0 1 0 -19.3 0zM1483.2 993.4a9.65 9.65 0 1 0 19.3 0a9.65 9.65 0 1 0 -19.3 0zM1489.0 993.9a9.65 9.65 0 1 0 19.3 0a9.65 9.65 0 1 0 -19.3 0zM1494.9 994.4a9.65 9.65 0 1 0 19.3 0a9.65 9.65 0 1 0 -19.3 0zM1500.8 994.8a9.65 9.65 0 1 0 19.3 0a9.65 9.65 0 1 0 -19.3 0zM1506.6 996.0a9.65 9.65 0 1 0 19.3 0a9.65 9.65 0 1 0 -19.3 0zM1512.5 997.1a9.65 9.65 0 1 0 19.3 0a9.65 9.65 0 1 0 -19.3 0zM1518.4 998.7a9.65 9.65 0 1 0 19.3 0a9.65 9.65 0 1 0 -19.3 0zM1524.3 999.4a9.65 9.65 0 1 0 19.3 0a9.65 9.65 0 1 0 -19.3 0zM1530.1 1000.5a9.65 9.65 0 1 0 19.3 0a9.65 9.65 0 1 0 -19.3 0zM1536.0 1001.6a9.65 9.65 0 1 0 19.3 0a9.65 9.65 0 1 0 -19.3 0zM1541.9 1003.4a9.65 9.65 0 1 0 19.3 0a9.65 9.65 0 1 0 -19.3 0zM1547.7 1004.6a9.65 9.65 0 1 0 19.3 0a9.65 9.65 0 1 0 -19.3 0zM1553.6 1005.6a9.65 9.65 0 1 0 19.3 0a9.65 9.65 0 1 0 -19.3 0zM1559.5 1005.3a9.65 9.65 0 1 0 19.3 0a9.65 9.65 0 1 0 -19.3 0zM1565.3 1005.3a9.65 9.65 0 1 0 19.3 0a9.65 9.65 0 1 0 -19.3 0zM1571.2 1005.3a9.65 9.65 0 1 0 19.3 0a9.65 9.65 0 1 0 -19.3 0zM1577.1 1003.7a9.65 9.65 0 1 0 19.3 0a9.65 9.65 0 1 0 -19.3 0zM1582.9 1001.7a9.65 9.65 0 1 0 19.3 0a9.65 9.65 0 1 0 -19.3 0zM1588.8 1000.1a9.65 9.65 0 1 0 19.3 0a9.65 9.65 0 1 0 -19.3 0zM1594.7 998.2a9.65 9.65 0 1 0 19.3 0a9.65 9.65 0 1 0 -19.3 0zM1600.5 997.4a9.65 9.65 0 1 0 19.3 0a9.65 9.65 0 1 0 -19.3 0zM1606.4 996.1a9.65 9.65 0 1 0 19.3 0a9.65 9.65 0 1 0 -19.3 0zM1612.3 994.4a9.65 9.65 0 1 0 19.3 0a9.65 9.65 0 1 0 -19.3 0zM1618.2 995.9a9.65 9.65 0 1 0 19.3 0a9.65 9.65 0 1 0 -19.3 0zM1624.0 998.2a9.65 9.65 0 1 0 19.3 0a9.65 9.65 0 1 0 -19.3 0zM1629.9 999.4a9.65 9.65 0 1 0 19.3 0a9.65 9.65 0 1 0 -19.3 0zM1635.8 1001.2a9.65 9.65 0 1 0 19.3 0a9.65 9.65 0 1 0 -19.3 0zM1641.6 996.9a9.65 9.65 0 1 0 19.3 0a9.65 9.65 0 1 0 -19.3 0zM1647.5 993.1a9.65 9.65 0 1 0 19.3 0a9.65 9.65 0 1 0 -19.3 0zM1653.4 989.2a9.65 9.65 0 1 0 19.3 0a9.65 9.65 0 1 0 -19.3 0zM1659.2 986.8a9.65 9.65 0 1 0 19.3 0a9.65 9.65 0 1 0 -19.3 0zM1665.1 984.1a9.65 9.65 0 1 0 19.3 0a9.65 9.65 0 1 0 -19.3 0zM1671.0 981.9a9.65 9.65 0 1 0 19.3 0a9.65 9.65 0 1 0 -19.3 0zM1676.8 982.1a9.65 9.65 0 1 0 19.3 0a9.65 9.65 0 1 0 -19.3 0zM1682.7 982.8a9.65 9.65 0 1 0 19.3 0a9.65 9.65 0 1 0 -19.3 0zM1688.6 983.2a9.65 9.65 0 1 0 19.3 0a9.65 9.65 0 1 0 -19.3 0zM1694.4 984.0a9.65 9.65 0 1 0 19.3 0a9.65 9.65 0 1 0 -19.3 0zM1700.3 982.8a9.65 9.65 0 1 0 19.3 0a9.65 9.65 0 1 0 -19.3 0zM1706.2 981.9a9.65 9.65 0 1 0 19.3 0a9.65 9.65 0 1 0 -19.3 0zM1712.1 981.1a9.65 9.65 0 1 0 19.3 0a9.65 9.65 0 1 0 -19.3 0zM1717.9 980.2a9.65 9.65 0 1 0 19.3 0a9.65 9.65 0 1 0 -19.3 0zM1723.8 979.5a9.65 9.65 0 1 0 19.3 0a9.65 9.65 0 1 0 -19.3 0zM1729.7 978.5a9.65 9.65 0 1 0 19.3 0a9.65 9.65 0 1 0 -19.3 0zM1735.5 979.3a9.65 9.65 0 1 0 19.3 0a9.65 9.65 0 1 0 -19.3 0zM1741.4 979.7a9.65 9.65 0 1 0 19.3 0a9.65 9.65 0 1 0 -19.3 0zM1747.3 980.3a9.65 9.65 0 1 0 19.3 0a9.65 9.65 0 1 0 -19.3 0zM1753.1 981.0a9.65 9.65 0 1 0 19.3 0a9.65 9.65 0 1 0 -19.3 0zM1759.0 979.3a9.65 9.65 0 1 0 19.3 0a9.65 9.65 0 1 0 -19.3 0zM1764.9 978.0a9.65 9.65 0 1 0 19.3 0a9.65 9.65 0 1 0 -19.3 0zM1770.7 977.2a9.65 9.65 0 1 0 19.3 0a9.65 9.65 0 1 0 -19.3 0zM1776.6 975.3a9.65 9.65 0 1 0 19.3 0a9.65 9.65 0 1 0 -19.3 0zM1782.5 974.5a9.65 9.65 0 1 0 19.3 0a9.65 9.65 0 1 0 -19.3 0zM1788.3 973.1a9.65 9.65 0 1 0 19.3 0a9.65 9.65 0 1 0 -19.3 0zM1794.2 975.8a9.65 9.65 0 1 0 19.3 0a9.65 9.65 0 1 0 -19.3 0zM1800.1 979.7a9.65 9.65 0 1 0 19.3 0a9.65 9.65 0 1 0 -19.3 0zM1806.0 982.9a9.65 9.65 0 1 0 19.3 0a9.65 9.65 0 1 0 -19.3 0zM1811.8 985.9a9.65 9.65 0 1 0 19.3 0a9.65 9.65 0 1 0 -19.3 0zM1817.7 984.8a9.65 9.65 0 1 0 19.3 0a9.65 9.65 0 1 0 -19.3 0zM1823.6 983.7a9.65 9.65 0 1 0 19.3 0a9.65 9.65 0 1 0 -19.3 0zM1829.4 982.0a9.65 9.65 0 1 0 19.3 0a9.65 9.65 0 1 0 -19.3 0zM1835.3 981.1a9.65 9.65 0 1 0 19.3 0a9.65 9.65 0 1 0 -19.3 0zM1841.2 980.5a9.65 9.65 0 1 0 19.3 0a9.65 9.65 0 1 0 -19.3 0zM1847.0 980.2a9.65 9.65 0 1 0 19.3 0a9.65 9.65 0 1 0 -19.3 0zM1852.9 979.5a9.65 9.65 0 1 0 19.3 0a9.65 9.65 0 1 0 -19.3 0zM1858.8 979.0a9.65 9.65 0 1 0 19.3 0a9.65 9.65 0 1 0 -19.3 0zM1864.6 978.2a9.65 9.65 0 1 0 19.3 0a9.65 9.65 0 1 0 -19.3 0zM1870.5 977.8a9.65 9.65 0 1 0 19.3 0a9.65 9.65 0 1 0 -19.3 0zM1876.4 977.5a9.65 9.65 0 1 0 19.3 0a9.65 9.65 0 1 0 -19.3 0zM1882.2 977.3a9.65 9.65 0 1 0 19.3 0a9.65 9.65 0 1 0 -19.3 0zM1888.1 976.8a9.65 9.65 0 1 0 19.3 0a9.65 9.65 0 1 0 -19.3 0zM1894.0 975.7a9.65 9.65 0 1 0 19.3 0a9.65 9.65 0 1 0 -19.3 0zM1899.9 974.8a9.65 9.65 0 1 0 19.3 0a9.65 9.65 0 1 0 -19.3 0zM1905.7 974.1a9.65 9.65 0 1 0 19.3 0a9.65 9.65 0 1 0 -19.3 0zM1911.6 975.6a9.65 9.65 0 1 0 19.3 0a9.65 9.65 0 1 0 -19.3 0zM1917.5 977.9a9.65 9.65 0 1 0 19.3 0a9.65 9.65 0 1 0 -19.3 0zM1923.3 979.3a9.65 9.65 0 1 0 19.3 0a9.65 9.65 0 1 0 -19.3 0zM1929.2 977.6a9.65 9.65 0 1 0 19.3 0a9.65 9.65 0 1 0 -19.3 0zM1935.1 975.9a9.65 9.65 0 1 0 19.3 0a9.65 9.65 0 1 0 -19.3 0zM1940.9 974.1a9.65 9.65 0 1 0 19.3 0a9.65 9.65 0 1 0 -19.3 0zM1946.8 974.7a9.65 9.65 0 1 0 19.3 0a9.65 9.65 0 1 0 -19.3 0zM1952.7 974.9a9.65 9.65 0 1 0 19.3 0a9.65 9.65 0 1 0 -19.3 0zM1958.5 976.2a9.65 9.65 0 1 0 19.3 0a9.65 9.65 0 1 0 -19.3 0zM1964.4 974.5a9.65 9.65 0 1 0 19.3 0a9.65 9.65 0 1 0 -19.3 0zM1970.3 972.7a9.65 9.65 0 1 0 19.3 0a9.65 9.65 0 1 0 -19.3 0zM1976.1 978.0a9.65 9.65 0 1 0 19.3 0a9.65 9.65 0 1 0 -19.3 0zM1982.0 983.2a9.65 9.65 0 1 0 19.3 0a9.65 9.65 0 1 0 -19.3 0zM1987.9 995.2a9.65 9.65 0 1 0 19.3 0a9.65 9.65 0 1 0 -19.3 0zM1993.8 999.7a9.65 9.65 0 1 0 19.3 0a9.65 9.65 0 1 0 -19.3 0z"/>
<rect x="249" y="57.0" width="1869" height="1311.9" fill="none" stroke="#000" stroke-width="6"/>
<path d="M271.7 1368.9V1339.9M387.1 1368.9V1353.6M502.5 1368.9V1339.9M617.8 1368.9V1353.6M733.2 1368.9V1339.9M848.6 1368.9V1353.6M964.0 1368.9V1339.9M1079.4 1368.9V1353.6M1194.7 1368.9V1339.9M1310.1 1368.9V1353.6M1425.5 1368.9V1339.9M1540.9 1368.9V1353.6M1656.3 1368.9V1339.9M1771.6 1368.9V1353.6M1887.0 1368.9V1339.9M2002.4 1368.9V1353.6M2117.8 1368.9V1339.9" stroke="#000" stroke-width="6" fill="none"/>
<path d="M249 1368.9H264.5M249 1281.4H277.8M249 1194.0H264.5M249 1106.5H277.8M249 1019.1H264.5M249 931.6H277.8M249 844.1H264.5M249 756.7H277.8M249 669.2H264.5M249 581.8H277.8M249 494.3H264.5M249 406.8H277.8M249 319.4H264.5M249 231.9H277.8M249 144.5H264.5M249 57.0H277.8M2118 1368.9H2088.0M2118 1296.0H2102.0M2118 1223.1H2088.0M2118 1150.2H2102.0M2118 1077.4H2088.0M2118 1004.5H2102.0M2118 931.6H2088.0M2118 858.7H2102.0M2118 785.8H2088.0M2118 713.0H2102.0M2118 640.1H2088.0M2118 567.2H2102.0M2118 494.3H2088.0M2118 421.4H2102.0M2118 348.5H2088.0M2118 275.7H2102.0M2118 202.8H2088.0M2118 129.9H2102.0M2118 57.0H2088.0" stroke="#000" stroke-width="5.3" fill="none"/>
<g font-family="Liberation Sans, Arial, sans-serif" stroke="#000" stroke-width="0.7" stroke-linejoin="round" font-size="100" fill="#000">
<text transform="translate(271.7,1452.2) scale(0.651,0.69)" text-anchor="middle">0</text>
<text transform="translate(502.5,1452.2) scale(0.651,0.69)" text-anchor="middle">20</text>
<text transform="translate(733.2,1452.2) scale(0.651,0.69)" text-anchor="middle">40</text>
<text transform="translate(964.0,1452.2) scale(0.651,0.69)" text-anchor="middle">60</text>
<text transform="translate(1194.7,1452.2) scale(0.651,0.69)" text-anchor="middle">80</text>
<text transform="translate(1425.5,1452.2) scale(0.651,0.69)" text-anchor="middle">100</text>
<text transform="translate(1656.3,1452.2) scale(0.651,0.69)" text-anchor="middle">120</text>
<text transform="translate(1887.0,1452.2) scale(0.651,0.69)" text-anchor="middle">140</text>
<text transform="translate(2117.8,1452.2) scale(0.651,0.69)" text-anchor="middle">160</text>
<text transform="translate(219.85,1301.6) scale(0.651,0.69)" text-anchor="end">40</text>
<text transform="translate(219.85,1126.7) scale(0.651,0.69)" text-anchor="end">60</text>
<text transform="translate(219.85,951.8) scale(0.651,0.69)" text-anchor="end">80</text>
<text transform="translate(219.85,776.8) scale(0.651,0.69)" text-anchor="end">100</text>
<text transform="translate(219.85,601.9) scale(0.651,0.69)" text-anchor="end">120</text>
<text transform="translate(219.85,427.0) scale(0.651,0.69)" text-anchor="end">140</text>
<text transform="translate(219.85,252.1) scale(0.651,0.69)" text-anchor="end">160</text>
<text transform="translate(219.85,77.2) scale(0.651,0.69)" text-anchor="end">180</text>
<text transform="translate(2146.8,1389.5) scale(0.651,0.69)">20</text>
<text transform="translate(2146.8,1243.7) scale(0.651,0.69)">40</text>
<text transform="translate(2146.8,1098.0) scale(0.651,0.69)">60</text>
<text transform="translate(2146.8,952.2) scale(0.651,0.69)">80</text>
<text transform="translate(2146.8,806.4) scale(0.651,0.69)">100</text>
<text transform="translate(2146.8,660.7) scale(0.651,0.69)">120</text>
<text transform="translate(2146.8,514.9) scale(0.651,0.69)">140</text>
<text transform="translate(2146.8,369.1) scale(0.651,0.69)">160</text>
<text transform="translate(2146.8,223.4) scale(0.651,0.69)">180</text>
<text transform="translate(2146.8,77.6) scale(0.651,0.69)">200</text>
</g>
<text font-family="Liberation Sans, Arial, sans-serif" stroke="#000" stroke-width="0.7" stroke-linejoin="round" font-size="100" transform="translate(994.18,1530.70) scale(0.7265,0.7708)">Time (min)</text>
<text font-family="Liberation Sans, Arial, sans-serif" stroke="#000" stroke-width="0.7" stroke-linejoin="round" font-size="100" transform="translate(100.90,931.72) rotate(-90) scale(0.6880,0.6978)">Temperature</text>
<text font-family="Liberation Sans, Arial, sans-serif" stroke="#000" stroke-width="0.7" stroke-linejoin="round" font-size="100" transform="translate(101.81,528.92) rotate(-90) scale(0.8038,0.7849)">(</text>
<text font-family="Liberation Sans, Arial, sans-serif" stroke="#000" stroke-width="0.7" stroke-linejoin="round" font-size="100" transform="translate(59.44,499.52) rotate(-90) scale(0.6547,0.6624)">o</text>
<text font-family="Liberation Sans, Arial, sans-serif" stroke="#000" stroke-width="0.7" stroke-linejoin="round" font-size="100" transform="translate(101.29,462.20) rotate(-90) scale(0.6603,0.7056)">C</text>
<text font-family="Liberation Sans, Arial, sans-serif" stroke="#000" stroke-width="0.7" stroke-linejoin="round" font-size="100" transform="translate(101.91,411.40) rotate(-90) scale(0.7962,0.7849)">)</text>
<text font-family="Liberation Sans, Arial, sans-serif" stroke="#000" stroke-width="0.7" stroke-linejoin="round" font-size="100" transform="translate(2286.10,371.70) rotate(90) scale(0.7977,0.8453)">Viscosity (mPa·s)</text>
<path d="M1485 147.6H1654" stroke="#f00" stroke-width="3"/>
<rect x="1561" y="139" width="17.5" height="17.5" fill="#f00"/>
<path d="M1485 241H1654" stroke="#000" stroke-width="5.5"/>
<circle cx="1569.4" cy="240.8" r="9.8" fill="#000"/>
<path d="M1485 335H1654" stroke="#00f" stroke-width="4.5"/>
<circle cx="1569.4" cy="335" r="9.8" fill="#00f"/>
<text font-family="Liberation Sans, Arial, sans-serif" stroke="#000" stroke-width="0.7" stroke-linejoin="round" font-size="100" transform="translate(1672.98,173.85) scale(0.7684,0.8007)">Temperature</text>
<text font-family="Liberation Sans, Arial, sans-serif" stroke="#000" stroke-width="0.7" stroke-linejoin="round" font-size="100" transform="translate(1673.40,268.20) scale(0.7491,0.7958)">0.3 wt%</text>
<text font-family="Liberation Sans, Arial, sans-serif" stroke="#000" stroke-width="0.7" stroke-linejoin="round" font-size="100" transform="translate(1673.40,361.20) scale(0.7491,0.8028)">0.6 wt%</text>
</svg></body></html>
